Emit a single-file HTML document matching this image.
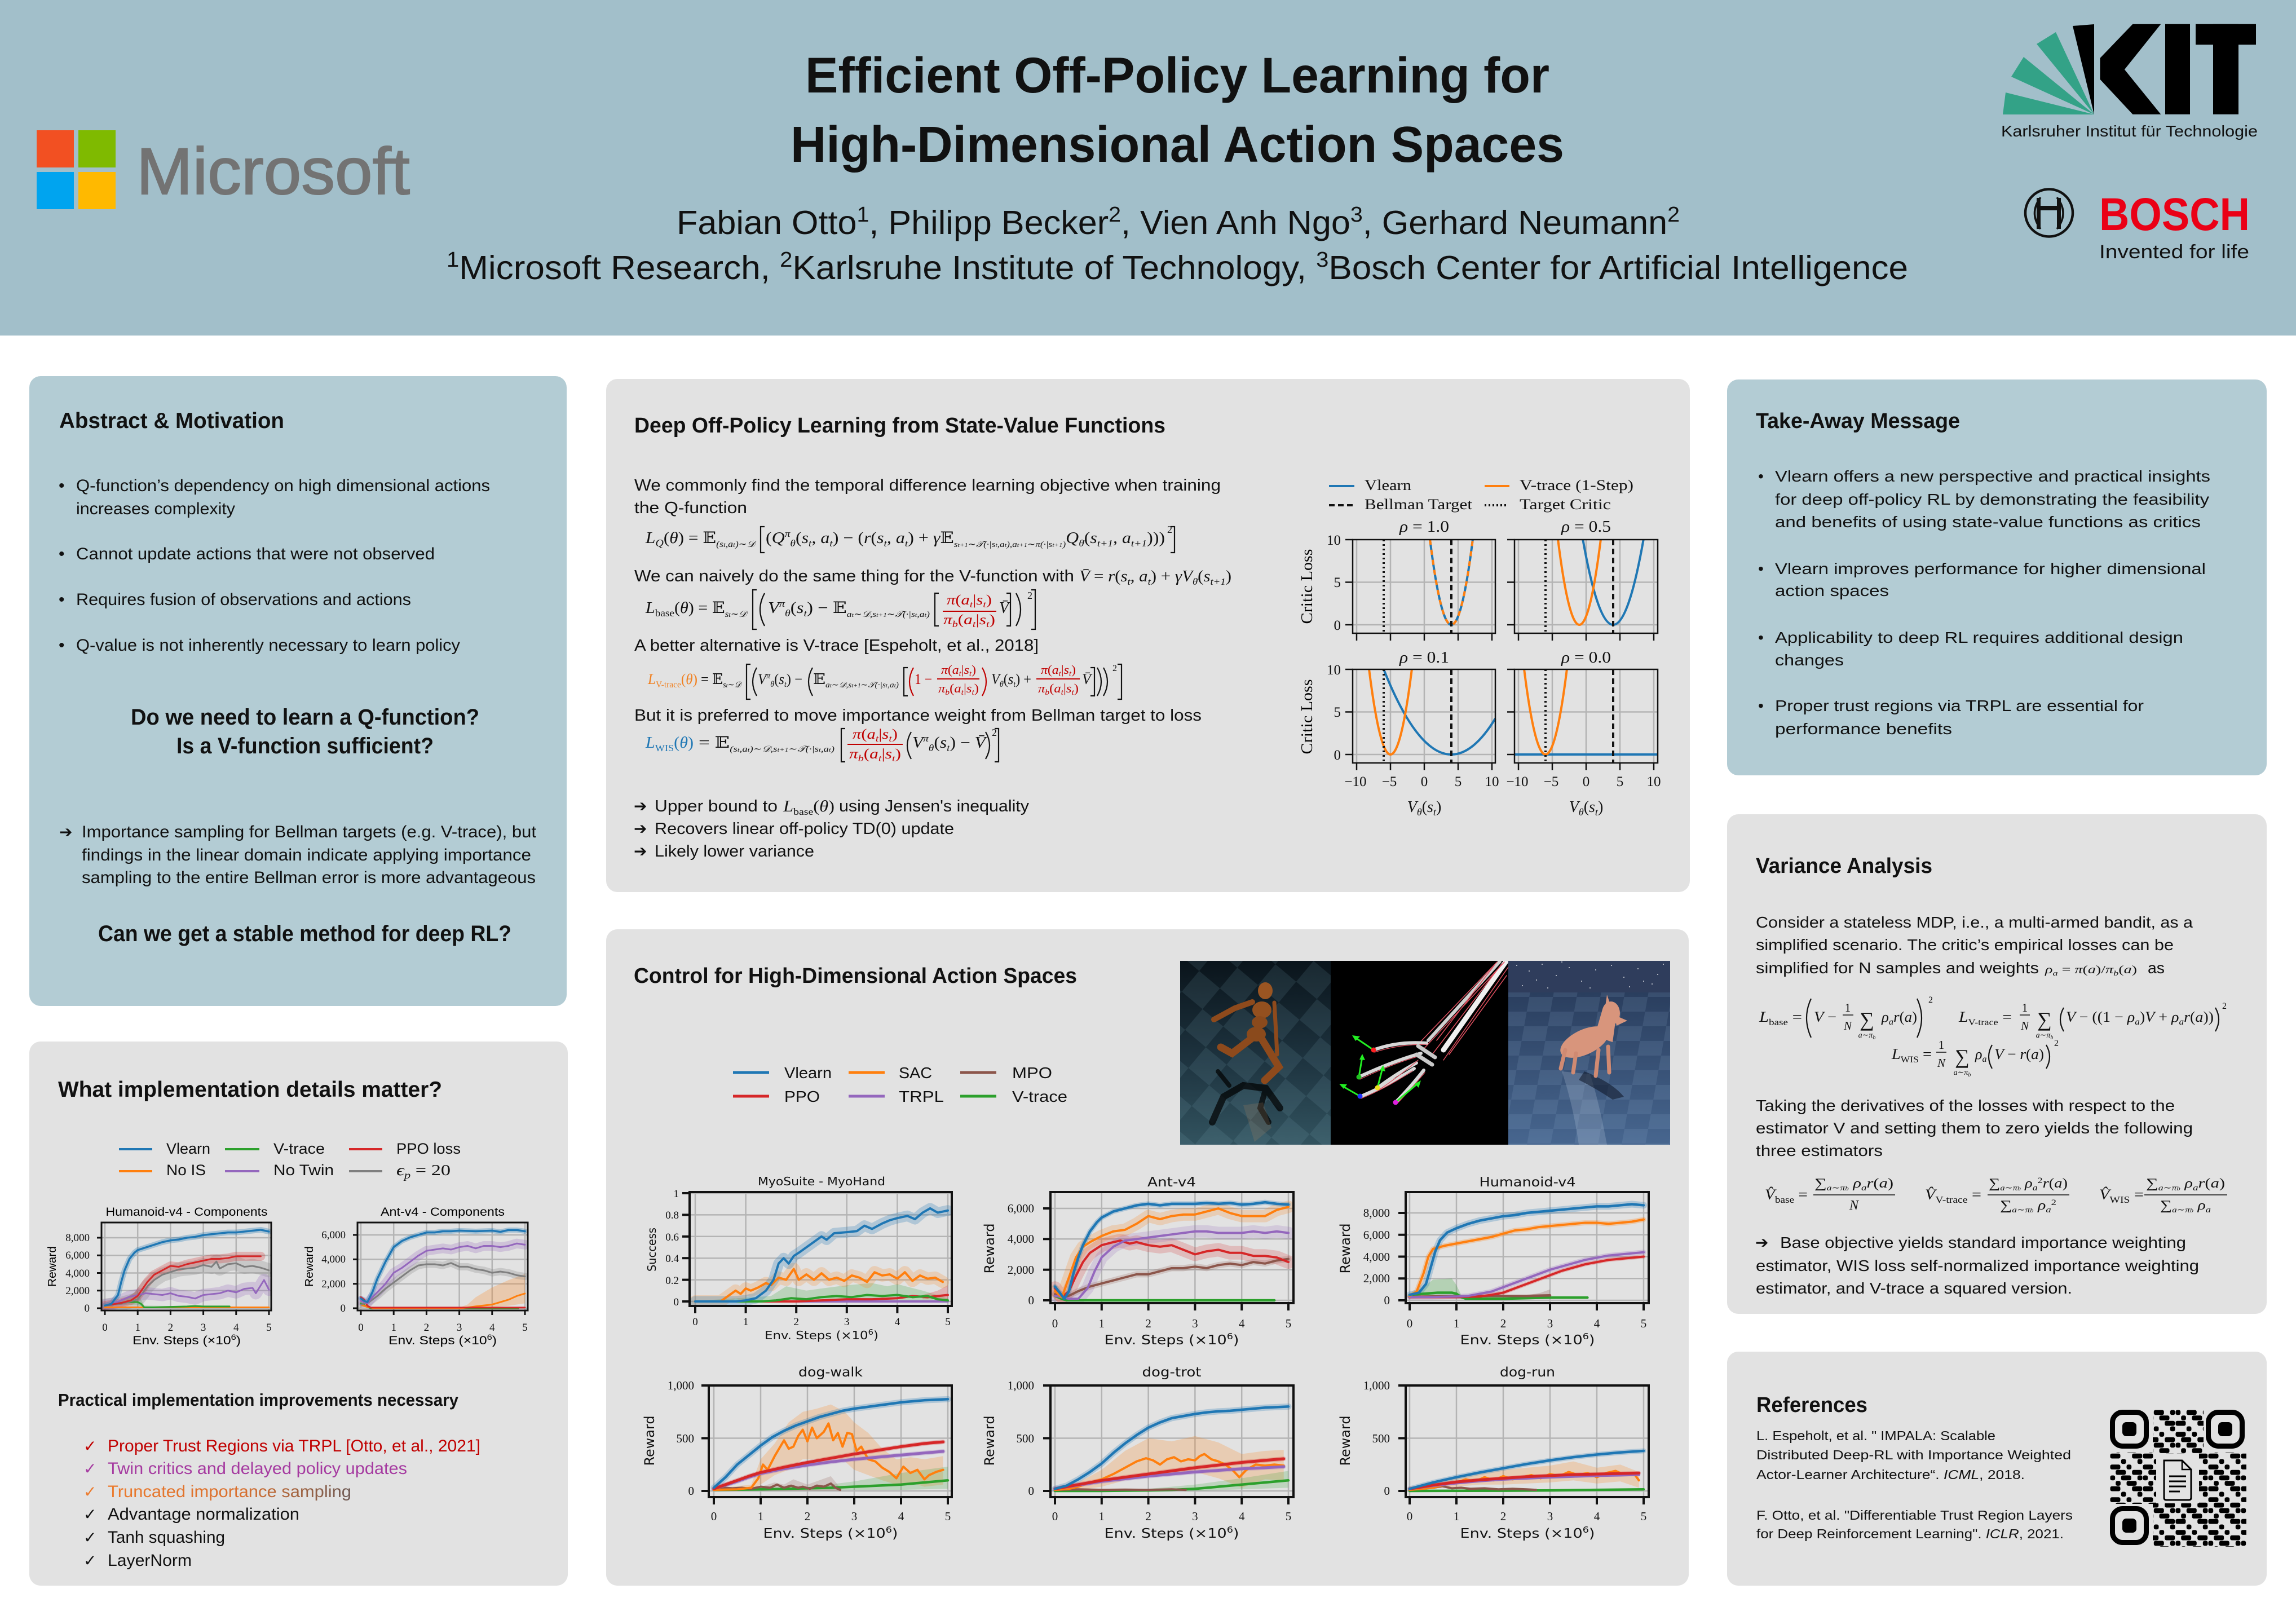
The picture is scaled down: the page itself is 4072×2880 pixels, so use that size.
<!DOCTYPE html>
<html><head><meta charset="utf-8"><style>
html,body{margin:0;padding:0;background:#fff}
svg{display:block}
.s{font-family:"Liberation Sans","DejaVu Sans",sans-serif}
.b{font-family:"Liberation Sans","DejaVu Sans",sans-serif;font-weight:bold}
.m{font-family:"Liberation Serif","DejaVu Serif",serif;font-style:italic}
.r{font-family:"Liberation Serif","DejaVu Serif",serif;font-style:normal}
.d{font-family:"DejaVu Sans",sans-serif}
.ln{fill:none;vector-effect:non-scaling-stroke;stroke-linejoin:round;stroke-linecap:round}
.gr{stroke:#b4b4b4;stroke-width:2.5}
.dl{fill:none;stroke:#111;stroke-width:2.2}
</style></head><body>
<svg width="4072" height="2880" viewBox="0 0 4072 2880" xmlns="http://www.w3.org/2000/svg">
<defs>
<clipPath id="cC1"><rect x="180" y="2168" width="301" height="156"/></clipPath>
<clipPath id="cC2"><rect x="634" y="2168" width="302" height="156"/></clipPath>
<clipPath id="cM"><rect x="1223" y="2114" width="465" height="202"/></clipPath>
<clipPath id="cA"><rect x="1863" y="2114" width="431" height="197"/></clipPath>
<clipPath id="cH"><rect x="2493" y="2114" width="431" height="197"/></clipPath>
<clipPath id="cW"><rect x="1257" y="2457" width="431" height="198"/></clipPath>
<clipPath id="cT"><rect x="1863" y="2457" width="431" height="198"/></clipPath>
<clipPath id="cR"><rect x="2493" y="2457" width="431" height="198"/></clipPath>
<clipPath id="cImg1"><rect x="2093" y="1704" width="267" height="326"/></clipPath>
<clipPath id="cImg2"><rect x="2360" y="1704" width="315" height="326"/></clipPath>
<clipPath id="cImg3"><rect x="2675" y="1704" width="287" height="326"/></clipPath>
<linearGradient id="trunc" x1="191" y1="0" x2="623" y2="0" gradientUnits="userSpaceOnUse"><stop offset="0" stop-color="#ec7a2c"/><stop offset="0.55" stop-color="#d9702e"/><stop offset="1" stop-color="#6e5a55"/></linearGradient>
<linearGradient id="hum" x1="0" y1="0" x2="0" y2="1"><stop offset="0" stop-color="#0a141b"/><stop offset="0.55" stop-color="#1e3440"/><stop offset="1" stop-color="#32535f"/></linearGradient>
<linearGradient id="floor" x1="0" y1="0" x2="0" y2="1"><stop offset="0" stop-color="#2a3e5e"/><stop offset="1" stop-color="#47668f"/></linearGradient>
<pattern id="chk1" width="96" height="96" patternUnits="userSpaceOnUse" patternTransform="rotate(40)"><rect width="48" height="48" fill="#7fb0c4" opacity="0.13"/><rect x="48" y="48" width="48" height="48" fill="#7fb0c4" opacity="0.13"/></pattern>
<pattern id="chk3" width="84" height="52" patternUnits="userSpaceOnUse" patternTransform="skewX(-10)"><rect width="42" height="26" fill="#9ab6da" opacity="0.13"/><rect x="42" y="26" width="42" height="26" fill="#9ab6da" opacity="0.13"/></pattern>
<pattern id="qr" x="3742" y="2500" width="58" height="58" patternUnits="userSpaceOnUse">
<rect x="0.5" y="0.5" width="8.7" height="8.7" rx="3"/><rect x="19.8" y="0.5" width="18" height="8.7" rx="3"/><rect x="48.8" y="0.5" width="8.7" height="8.7" rx="3"/>
<rect x="10.2" y="10.2" width="8.7" height="8.7" rx="3"/><rect x="29.5" y="10.2" width="18" height="8.7" rx="3"/>
<rect x="0.5" y="19.8" width="18" height="8.7" rx="3"/><rect x="39.2" y="19.8" width="18" height="8.7" rx="3"/>
<rect x="19.8" y="29.5" width="8.7" height="8.7" rx="3"/><rect x="48.8" y="29.5" width="8.7" height="8.7" rx="3"/>
<rect x="0.5" y="39.2" width="18" height="8.7" rx="3"/><rect x="29.5" y="39.2" width="8.7" height="8.7" rx="3"/>
<rect x="10.2" y="48.8" width="18" height="8.7" rx="3"/><rect x="39.2" y="48.8" width="18" height="8.7" rx="3"/>
</pattern>
</defs>

<!-- ============ HEADER ============ -->
<rect x="0" y="0" width="4072" height="2880" fill="#ffffff"/>
<rect x="0" y="0" width="4072" height="595" fill="#a2bfca"/>
<rect x="65" y="231" width="66" height="66" fill="#f25022"/>
<rect x="139" y="231" width="66" height="66" fill="#7fba00"/>
<rect x="65" y="305" width="66" height="66" fill="#00a4ef"/>
<rect x="139" y="305" width="66" height="66" fill="#ffb900"/>
<text x="242" y="344" class="s" font-size="117" fill="#737373" stroke="#737373" stroke-width="2" textLength="485" lengthAdjust="spacingAndGlyphs">Microsoft</text>

<text x="1428" y="164" class="b" font-size="89" fill="#111" textLength="1320" lengthAdjust="spacingAndGlyphs">Efficient Off-Policy Learning for</text>
<text x="1402" y="287" class="b" font-size="90" fill="#111" textLength="1372" lengthAdjust="spacingAndGlyphs">High-Dimensional Action Spaces</text>
<text x="1200" y="415" class="s" font-size="59" fill="#111" textLength="1779" lengthAdjust="spacingAndGlyphs">Fabian Otto<tspan font-size="38" dy="-22">1</tspan><tspan dy="22">, Philipp Becker</tspan><tspan font-size="38" dy="-22">2</tspan><tspan dy="22">, Vien Anh Ngo</tspan><tspan font-size="38" dy="-22">3</tspan><tspan dy="22">, Gerhard Neumann</tspan><tspan font-size="38" dy="-22">2</tspan></text>
<text x="792" y="495" class="s" font-size="59" fill="#111" textLength="2592" lengthAdjust="spacingAndGlyphs"><tspan font-size="38" dy="-22">1</tspan><tspan dy="22">Microsoft Research, </tspan><tspan font-size="38" dy="-22">2</tspan><tspan dy="22">Karlsruhe Institute of Technology, </tspan><tspan font-size="38" dy="-22">3</tspan><tspan dy="22">Bosch Center for Artificial Intelligence</tspan></text>

<!-- KIT -->
<polygon points="3552,203 3557,164 3714,203" fill="#33a287"/>
<polygon points="3567,136 3589,101 3714,203" fill="#33a287"/>
<polygon points="3612,78 3646,57 3714,203" fill="#33a287"/>
<polygon points="3676,46 3714,43 3714,203" fill="#000"/>
<polygon points="3724.5,103 3782.4,42.7 3832.3,42.7 3767.9,123.3 3832.3,202.7 3782.4,202.7 3724.5,140.7" fill="#000"/>
<rect x="3840" y="42.7" width="44" height="160" fill="#000"/>
<rect x="3894" y="42.7" width="107" height="36.6" fill="#000"/>
<rect x="3925" y="42.7" width="45" height="160" fill="#000"/>
<text x="3549" y="242" class="s" font-size="28" fill="#111" textLength="455" lengthAdjust="spacingAndGlyphs">Karlsruher Institut für Technologie</text>
<!-- Bosch -->
<circle cx="3634" cy="377.5" r="42" fill="none" stroke="#111" stroke-width="4.5"/>
<path d="M3619,350 Q3598,378 3619,406 M3648,350 Q3670,378 3648,406" fill="none" stroke="#111" stroke-width="3.5"/>
<rect x="3612" y="351" width="7" height="55" fill="#111"/>
<rect x="3648" y="351" width="7" height="55" fill="#111"/>
<rect x="3619" y="365" width="29" height="8" fill="#111"/>
<text x="3723" y="408" class="b" font-size="82" fill="#ea0016" textLength="267" lengthAdjust="spacingAndGlyphs">BOSCH</text>
<text x="3723" y="458" class="s" font-size="34" fill="#111" textLength="266" lengthAdjust="spacingAndGlyphs">Invented for life</text>

<!-- ============ PANELS ============ -->
<rect x="52" y="667" width="953" height="1117" rx="20" fill="#b3ccd4"/>
<rect x="52" y="1847" width="955" height="965" rx="20" fill="#e2e2e2"/>
<rect x="1075" y="672" width="1922" height="910" rx="20" fill="#e2e2e2"/>
<rect x="1075" y="1648" width="1920" height="1164" rx="20" fill="#e2e2e2"/>
<rect x="3063" y="673" width="957" height="702" rx="20" fill="#b3ccd4"/>
<rect x="3063" y="1444" width="957" height="886" rx="20" fill="#e2e2e2"/>
<rect x="3063" y="2397" width="957" height="415" rx="20" fill="#e2e2e2"/>

<!-- ============ ABSTRACT ============ -->
<g class="s" fill="#111">
<text x="105" y="759" class="b" font-size="39" textLength="399" lengthAdjust="spacingAndGlyphs">Abstract &amp; Motivation</text>
<g font-size="30">
<text x="104" y="871">•</text><text x="135" y="871" textLength="734" lengthAdjust="spacingAndGlyphs">Q-function’s dependency on high dimensional actions</text>
<text x="135" y="912" textLength="282" lengthAdjust="spacingAndGlyphs">increases complexity</text>
<text x="104" y="992">•</text><text x="135" y="992" textLength="636" lengthAdjust="spacingAndGlyphs">Cannot update actions that were not observed</text>
<text x="104" y="1073">•</text><text x="135" y="1073" textLength="594" lengthAdjust="spacingAndGlyphs">Requires fusion of observations and actions</text>
<text x="104" y="1154">•</text><text x="135" y="1154" textLength="681" lengthAdjust="spacingAndGlyphs">Q-value is not inherently necessary to learn policy</text>
<text x="105" y="1485" class="d" font-size="28">➔</text>
<text x="145" y="1485" textLength="806" lengthAdjust="spacingAndGlyphs">Importance sampling for Bellman targets (e.g. V-trace), but</text>
<text x="145" y="1526" textLength="797" lengthAdjust="spacingAndGlyphs">findings in the linear domain indicate applying importance</text>
<text x="145" y="1566" textLength="805" lengthAdjust="spacingAndGlyphs">sampling to the entire Bellman error is more advantageous</text>
</g>
<text x="232" y="1285" class="b" font-size="40" textLength="618" lengthAdjust="spacingAndGlyphs">Do we need to learn a Q-function?</text>
<text x="313" y="1336" class="b" font-size="40" textLength="456" lengthAdjust="spacingAndGlyphs">Is a V-function sufficient?</text>
<text x="174" y="1669" class="b" font-size="40" textLength="733" lengthAdjust="spacingAndGlyphs">Can we get a stable method for deep RL?</text>
</g>

<!-- ============ IMPLEMENTATION DETAILS ============ -->
<g class="s" fill="#111">
<text x="103" y="1945" class="b" font-size="39" textLength="681" lengthAdjust="spacingAndGlyphs">What implementation details matter?</text>
<g stroke-width="4">
<line x1="211" y1="2038" x2="270" y2="2038" stroke="#1f77b4"/>
<line x1="399" y1="2038" x2="460" y2="2038" stroke="#2ca02c"/>
<line x1="619" y1="2038" x2="678" y2="2038" stroke="#d62728"/>
<line x1="211" y1="2077" x2="270" y2="2077" stroke="#ff7f0e"/>
<line x1="399" y1="2077" x2="460" y2="2077" stroke="#9467bd"/>
<line x1="619" y1="2077" x2="678" y2="2077" stroke="#7f7f7f"/>
</g>
<g font-size="27">
<text x="295" y="2046" textLength="78" lengthAdjust="spacingAndGlyphs">Vlearn</text>
<text x="485" y="2046" textLength="91" lengthAdjust="spacingAndGlyphs">V-trace</text>
<text x="703" y="2046" textLength="114" lengthAdjust="spacingAndGlyphs">PPO loss</text>
<text x="295" y="2084" textLength="70" lengthAdjust="spacingAndGlyphs">No IS</text>
<text x="485" y="2084" textLength="107" lengthAdjust="spacingAndGlyphs">No Twin</text>
<text x="703" y="2084" class="m" textLength="96" lengthAdjust="spacingAndGlyphs">ϵ<tspan font-size="18" dy="6">p</tspan><tspan dy="-6" class="r"> = 20</tspan></text>
</g>
</g>

<!-- Comp chart 1 -->
<g>
<text x="331" y="2156" class="s" font-size="21" text-anchor="middle" textLength="287" lengthAdjust="spacingAndGlyphs">Humanoid-v4 - Components</text>
<g class="gr">
<line x1="186" y1="2168" x2="186" y2="2324"/><line x1="244.2" y1="2168" x2="244.2" y2="2324"/><line x1="302.4" y1="2168" x2="302.4" y2="2324"/><line x1="360.6" y1="2168" x2="360.6" y2="2324"/><line x1="418.8" y1="2168" x2="418.8" y2="2324"/><line x1="477" y1="2168" x2="477" y2="2324"/>
<line x1="180" y1="2320" x2="481" y2="2320"/><line x1="180" y1="2288.75" x2="481" y2="2288.75"/><line x1="180" y1="2257.5" x2="481" y2="2257.5"/><line x1="180" y1="2226.25" x2="481" y2="2226.25"/><line x1="180" y1="2195" x2="481" y2="2195"/>
</g>
<g clip-path="url(#cC1)"><g transform="translate(186,2320) scale(58.2,-0.015625)">
<polygon points="0,400 0.5,900 0.9,1800 1,2000 1.1,1000 1.2,300 2,250 3.8,300 3.8,100 2,50 1.2,0 1,400 0.5,400 0,200" fill="#2ca02c" opacity="0.25"/>
<polyline class="ln" stroke="#7f7f7f" stroke-width="25" opacity="0.25" points="0,300 0.5,500 1,1000 1.15,1700 1.3,2500 1.5,3200 1.75,3800 2,4100 2.25,4400 2.5,4500 2.75,4600 3,4900 3.25,4700 3.4,5300 3.5,4500 3.75,5000 4,5100 4.25,4700 4.5,4800 4.75,4600 5,4300"/>
<polyline class="ln" stroke="#9467bd" stroke-width="22" opacity="0.25" points="0,300 0.25,500 0.5,900 0.75,1300 1,1500 1.25,1700 1.5,1600 1.75,1500 2,1700 2.25,1400 2.5,1300 2.75,1100 3,1500 3.25,1600 3.5,1700 3.75,2000 4,1800 4.25,2200 4.5,2300 4.6,1700 4.75,2600 4.85,3200 5,2100"/>
<polyline class="ln" stroke="#d62728" stroke-width="16" opacity="0.25" points="0,300 0.5,600 0.8,900 1,1400 1.15,2200 1.3,3000 1.5,3800 1.75,4300 2,4800 2.25,4700 2.5,5000 2.75,5200 3,5400 3.25,5600 3.5,5600 3.75,5700 4,5900 4.25,5900 4.5,5900 4.75,5900"/>
<polyline class="ln" stroke="#1f77b4" stroke-width="10" opacity="0.3" points="0,300 0.2,500 0.4,1500 0.5,3000 0.6,4300 0.75,5600 0.9,6300 1,6600 1.25,6900 1.5,7200 1.75,7500 2,7700 2.25,7800 2.5,8000 2.75,8100 3,8300 3.25,8400 3.5,8500 3.75,8600 4,8600 4.25,8700 4.5,8800 4.75,8900 5,8700"/>
<polyline class="ln" stroke="#ff7f0e" stroke-width="3" points="0,100 5,100"/>
<polyline class="ln" stroke="#2ca02c" stroke-width="3" points="0,300 0.25,500 0.5,600 0.75,700 1,700 1.1,500 1.2,100 1.5,100 2,150 2.5,200 2.75,250 3,200 3.5,200 3.8,200"/>
<polyline class="ln" stroke="#7f7f7f" stroke-width="3" points="0,300 0.5,500 1,1000 1.15,1700 1.3,2500 1.5,3200 1.75,3800 2,4100 2.25,4400 2.5,4500 2.75,4600 3,4900 3.25,4700 3.4,5300 3.5,4500 3.75,5000 4,5100 4.25,4700 4.5,4800 4.75,4600 5,4300"/>
<polyline class="ln" stroke="#9467bd" stroke-width="3" points="0,300 0.25,500 0.5,900 0.75,1300 1,1500 1.25,1700 1.5,1600 1.75,1500 2,1700 2.25,1400 2.5,1300 2.75,1100 3,1500 3.25,1600 3.5,1700 3.75,2000 4,1800 4.25,2200 4.5,2300 4.6,1700 4.75,2600 4.85,3200 5,2100"/>
<polyline class="ln" stroke="#d62728" stroke-width="3" points="0,300 0.5,600 0.8,900 1,1400 1.15,2200 1.3,3000 1.5,3800 1.75,4300 2,4800 2.25,4700 2.5,5000 2.75,5200 3,5400 3.25,5600 3.5,5600 3.75,5700 4,5900 4.25,5900 4.5,5900 4.75,5900"/>
<polyline class="ln" stroke="#1f77b4" stroke-width="3.5" points="0,300 0.2,500 0.4,1500 0.5,3000 0.6,4300 0.75,5600 0.9,6300 1,6600 1.25,6900 1.5,7200 1.75,7500 2,7700 2.25,7800 2.5,8000 2.75,8100 3,8300 3.25,8400 3.5,8500 3.75,8600 4,8600 4.25,8700 4.5,8800 4.75,8900 5,8700"/>
</g></g>
<rect x="180" y="2168" width="301" height="156" fill="none" stroke="#111" stroke-width="3"/>
<g stroke="#111" stroke-width="3">
<line x1="172" y1="2320" x2="180" y2="2320"/><line x1="172" y1="2288.75" x2="180" y2="2288.75"/><line x1="172" y1="2257.5" x2="180" y2="2257.5"/><line x1="172" y1="2226.25" x2="180" y2="2226.25"/><line x1="172" y1="2195" x2="180" y2="2195"/>
<line x1="186" y1="2324" x2="186" y2="2332"/><line x1="244.2" y1="2324" x2="244.2" y2="2332"/><line x1="302.4" y1="2324" x2="302.4" y2="2332"/><line x1="360.6" y1="2324" x2="360.6" y2="2332"/><line x1="418.8" y1="2324" x2="418.8" y2="2332"/><line x1="477" y1="2324" x2="477" y2="2332"/>
</g>
<g class="r" font-size="19" text-anchor="end" fill="#111">
<text x="159" y="2326">0</text><text x="159" y="2295">2,000</text><text x="159" y="2264">4,000</text><text x="159" y="2232">6,000</text><text x="159" y="2201">8,000</text>
</g>
<g class="r" font-size="19" text-anchor="middle" fill="#111">
<text x="186" y="2360">0</text><text x="244.2" y="2360">1</text><text x="302.4" y="2360">2</text><text x="360.6" y="2360">3</text><text x="418.8" y="2360">4</text><text x="477" y="2360">5</text>
</g>
<text x="331" y="2384" class="s" font-size="21" text-anchor="middle" textLength="192" lengthAdjust="spacingAndGlyphs">Env. Steps (×10<tspan font-size="14" dy="-8">6</tspan><tspan dy="8">)</tspan></text>
<text transform="translate(99,2246) rotate(-90)" class="s" font-size="20" text-anchor="middle" textLength="72" lengthAdjust="spacingAndGlyphs">Reward</text>
</g>

<!-- Comp chart 2 -->
<g>
<text x="785" y="2156" class="s" font-size="21" text-anchor="middle" textLength="220" lengthAdjust="spacingAndGlyphs">Ant-v4 - Components</text>
<g class="gr">
<line x1="640" y1="2168" x2="640" y2="2324"/><line x1="698.2" y1="2168" x2="698.2" y2="2324"/><line x1="756.4" y1="2168" x2="756.4" y2="2324"/><line x1="814.6" y1="2168" x2="814.6" y2="2324"/><line x1="872.8" y1="2168" x2="872.8" y2="2324"/><line x1="931" y1="2168" x2="931" y2="2324"/>
<line x1="634" y1="2320" x2="936" y2="2320"/><line x1="634" y1="2276.7" x2="936" y2="2276.7"/><line x1="634" y1="2233.3" x2="936" y2="2233.3"/><line x1="634" y1="2190" x2="936" y2="2190"/>
</g>
<g clip-path="url(#cC2)"><g transform="translate(640,2320) scale(58.2,-0.021667)">
<polygon points="0,500 0.3,100 3,50 3.25,300 3.5,900 4,1700 4.5,2300 5,2800 5,400 4.5,200 4,100 3,0 0,100" fill="#ff7f0e" opacity="0.25"/>
<polyline class="ln" stroke="#7f7f7f" stroke-width="13" opacity="0.25" points="0,300 0.25,500 0.5,1000 0.75,1600 1,2100 1.25,2600 1.5,3100 1.75,3500 2,3600 2.25,3600 2.5,3500 2.75,3700 3,3400 3.25,3400 3.5,3200 3.75,3100 4,2900 4.25,3000 4.5,2900 4.75,2700 5,2600"/>
<polyline class="ln" stroke="#9467bd" stroke-width="17" opacity="0.25" points="0,600 0.2,400 0.35,900 0.5,1300 0.75,2000 1,2900 1.25,3300 1.5,3800 1.75,4300 2,4700 2.25,4800 2.5,4900 2.75,4800 3,5000 3.25,5100 3.5,4900 3.75,5100 4,5100 4.25,5000 4.5,5100 4.75,5300 5,5200"/>
<polyline class="ln" stroke="#1f77b4" stroke-width="9" opacity="0.3" points="0,800 0.1,600 0.2,500 0.35,1300 0.5,2400 0.75,3800 1,5000 1.25,5500 1.5,5800 1.75,6000 2,6200 2.25,6200 2.5,6300 2.75,6300 3,6350 3.5,6300 4,6350 4.25,6250 4.5,6400 4.75,6400 5,6300"/>
<polyline class="ln" stroke="#2ca02c" stroke-width="3" points="0,400 0.2,100 0.3,0 4.8,0"/>
<polyline class="ln" stroke="#ff7f0e" stroke-width="3" points="0,300 0.2,100 0.4,0 3,0 3.25,50 3.5,150 4,300 4.25,500 4.5,700 4.75,1000 5,1200"/>
<polyline class="ln" stroke="#d62728" stroke-width="3" points="0,900 0.1,700 0.2,200 0.3,50 5,50"/>
<polyline class="ln" stroke="#7f7f7f" stroke-width="3" points="0,300 0.25,500 0.5,1000 0.75,1600 1,2100 1.25,2600 1.5,3100 1.75,3500 2,3600 2.25,3600 2.5,3500 2.75,3700 3,3400 3.25,3400 3.5,3200 3.75,3100 4,2900 4.25,3000 4.5,2900 4.75,2700 5,2600"/>
<polyline class="ln" stroke="#9467bd" stroke-width="3" points="0,600 0.2,400 0.35,900 0.5,1300 0.75,2000 1,2900 1.25,3300 1.5,3800 1.75,4300 2,4700 2.25,4800 2.5,4900 2.75,4800 3,5000 3.25,5100 3.5,4900 3.75,5100 4,5100 4.25,5000 4.5,5100 4.75,5300 5,5200"/>
<polyline class="ln" stroke="#1f77b4" stroke-width="3.5" points="0,800 0.1,600 0.2,500 0.35,1300 0.5,2400 0.75,3800 1,5000 1.25,5500 1.5,5800 1.75,6000 2,6200 2.25,6200 2.5,6300 2.75,6300 3,6350 3.5,6300 4,6350 4.25,6250 4.5,6400 4.75,6400 5,6300"/>
</g></g>
<rect x="634" y="2168" width="302" height="156" fill="none" stroke="#111" stroke-width="3"/>
<g stroke="#111" stroke-width="3">
<line x1="626" y1="2320" x2="634" y2="2320"/><line x1="626" y1="2276.7" x2="634" y2="2276.7"/><line x1="626" y1="2233.3" x2="634" y2="2233.3"/><line x1="626" y1="2190" x2="634" y2="2190"/>
<line x1="640" y1="2324" x2="640" y2="2332"/><line x1="698.2" y1="2324" x2="698.2" y2="2332"/><line x1="756.4" y1="2324" x2="756.4" y2="2332"/><line x1="814.6" y1="2324" x2="814.6" y2="2332"/><line x1="872.8" y1="2324" x2="872.8" y2="2332"/><line x1="931" y1="2324" x2="931" y2="2332"/>
</g>
<g class="r" font-size="19" text-anchor="end" fill="#111">
<text x="613" y="2326">0</text><text x="613" y="2283">2,000</text><text x="613" y="2239">4,000</text><text x="613" y="2196">6,000</text>
</g>
<g class="r" font-size="19" text-anchor="middle" fill="#111">
<text x="640" y="2360">0</text><text x="698.2" y="2360">1</text><text x="756.4" y="2360">2</text><text x="814.6" y="2360">3</text><text x="872.8" y="2360">4</text><text x="931" y="2360">5</text>
</g>
<text x="785" y="2384" class="s" font-size="21" text-anchor="middle" textLength="192" lengthAdjust="spacingAndGlyphs">Env. Steps (×10<tspan font-size="14" dy="-8">6</tspan><tspan dy="8">)</tspan></text>
<text transform="translate(555,2246) rotate(-90)" class="s" font-size="20" text-anchor="middle" textLength="72" lengthAdjust="spacingAndGlyphs">Reward</text>
</g>

<g class="s" font-size="30" fill="#111">
<text x="103" y="2493" class="b" font-size="31" textLength="710" lengthAdjust="spacingAndGlyphs">Practical implementation improvements necessary</text>
<text x="148" y="2574" class="d" font-size="28" fill="#c00000">✓</text><text x="191" y="2574" fill="#c00000" textLength="661" lengthAdjust="spacingAndGlyphs">Proper Trust Regions via TRPL [Otto, et al., 2021]</text>
<text x="148" y="2614" class="d" font-size="28" fill="#a53aa0">✓</text><text x="191" y="2614" fill="#a53aa0" textLength="531" lengthAdjust="spacingAndGlyphs">Twin critics and delayed policy updates</text>
<text x="148" y="2655" class="d" font-size="28" fill="#ec7a2c">✓</text><text x="191" y="2655" fill="url(#trunc)" textLength="432" lengthAdjust="spacingAndGlyphs">Truncated importance sampling</text>
<text x="148" y="2695" class="d" font-size="28">✓</text><text x="191" y="2695" textLength="340" lengthAdjust="spacingAndGlyphs">Advantage normalization</text>
<text x="148" y="2736" class="d" font-size="28">✓</text><text x="191" y="2736" textLength="208" lengthAdjust="spacingAndGlyphs">Tanh squashing</text>
<text x="148" y="2777" class="d" font-size="28">✓</text><text x="191" y="2777" textLength="149" lengthAdjust="spacingAndGlyphs">LayerNorm</text>
</g>

<!-- ============ DEEP OFF-POLICY ============ -->
<g fill="#111">
<text x="1125" y="767" class="b" font-size="38" textLength="942" lengthAdjust="spacingAndGlyphs">Deep Off-Policy Learning from State-Value Functions</text>
<g class="s" font-size="29">
<text x="1125" y="870" textLength="1040" lengthAdjust="spacingAndGlyphs">We commonly find the temporal difference learning objective when training</text>
<text x="1125" y="910" textLength="200" lengthAdjust="spacingAndGlyphs">the Q-function</text>
<text x="1125" y="1031" textLength="780" lengthAdjust="spacingAndGlyphs">We can naively do the same thing for the V-function with</text>
<text x="1125" y="1154" textLength="717" lengthAdjust="spacingAndGlyphs">A better alternative is V-trace [Espeholt, et al., 2018]</text>
<text x="1125" y="1278" textLength="1006" lengthAdjust="spacingAndGlyphs">But it is preferred to move importance weight from Bellman target to loss</text>
<text x="1124" y="1439" class="d" font-size="28">➔</text><text x="1161" y="1439" textLength="218" lengthAdjust="spacingAndGlyphs">Upper bound to</text><text x="1488" y="1439" textLength="337" lengthAdjust="spacingAndGlyphs">using Jensen's inequality</text>
<text x="1124" y="1479" class="d" font-size="28">➔</text><text x="1161" y="1479" textLength="531" lengthAdjust="spacingAndGlyphs">Recovers linear off-policy TD(0) update</text>
<text x="1124" y="1519" class="d" font-size="28">➔</text><text x="1161" y="1519" textLength="283" lengthAdjust="spacingAndGlyphs">Likely lower variance</text>
</g>
<text x="1389" y="1439" class="m" font-size="28" textLength="91" lengthAdjust="spacingAndGlyphs">L<tspan class="r" font-size="17" dy="6">base</tspan><tspan class="r" dy="-6">(</tspan>θ<tspan class="r">)</tspan></text>
<text x="1914" y="1031" class="m" font-size="28" textLength="270" lengthAdjust="spacingAndGlyphs">V̄ <tspan class="r">=</tspan> r<tspan class="r">(</tspan>s<tspan font-size="17" dy="6">t</tspan><tspan dy="-6" class="r">, </tspan>a<tspan font-size="17" dy="6">t</tspan><tspan dy="-6" class="r">) + </tspan>γV<tspan font-size="17" dy="6">θ̄</tspan><tspan dy="-6" class="r">(</tspan>s<tspan font-size="17" dy="6">t+1</tspan><tspan dy="-6" class="r">)</tspan></text>

<!-- L_Q -->
<text x="1145" y="963" class="m" font-size="28" textLength="194" lengthAdjust="spacingAndGlyphs">L<tspan font-size="18" dy="6">Q</tspan><tspan dy="-6" class="r">(</tspan>θ<tspan class="r">) = 𝔼</tspan><tspan font-size="16" dy="7">(s<tspan font-size="12">t</tspan>,a<tspan font-size="12">t</tspan>)∼𝒟</tspan></text>
<path class="dl" d="M1356,934 H1349 V980 H1356"/>
<text x="1358" y="963" class="m" font-size="28" textLength="708" lengthAdjust="spacingAndGlyphs"><tspan class="r">(</tspan>Q<tspan font-size="17" dy="-11">π</tspan><tspan font-size="17" dy="17">θ</tspan><tspan dy="-6" class="r">(</tspan>s<tspan font-size="17" dy="6">t</tspan><tspan dy="-6">, a</tspan><tspan font-size="17" dy="6">t</tspan><tspan dy="-6" class="r">) − (</tspan>r<tspan class="r">(</tspan>s<tspan font-size="17" dy="6">t</tspan><tspan dy="-6">, a</tspan><tspan font-size="17" dy="6">t</tspan><tspan dy="-6" class="r">) + </tspan>γ<tspan class="r">𝔼</tspan><tspan font-size="15" dy="7">s<tspan font-size="11">t+1</tspan>∼𝒯(·|s<tspan font-size="11">t</tspan>,a<tspan font-size="11">t</tspan>),a<tspan font-size="11">t+1</tspan>∼π(·|s<tspan font-size="11">t+1</tspan>)</tspan><tspan dy="-7">Q</tspan><tspan font-size="17" dy="6">θ̄</tspan><tspan dy="-6" class="r">(</tspan>s<tspan font-size="17" dy="6">t+1</tspan><tspan dy="-6">, a</tspan><tspan font-size="17" dy="6">t+1</tspan><tspan dy="-6" class="r">)))</tspan></text>
<text x="2070" y="945" class="r" font-size="18">2</text>
<path class="dl" d="M2076,934 H2083 V980 H2076"/>

<!-- L_base -->
<text x="1145" y="1087" class="m" font-size="28" textLength="179" lengthAdjust="spacingAndGlyphs">L<tspan class="r" font-size="18" dy="6">base</tspan><tspan dy="-6" class="r">(</tspan>θ<tspan class="r">) = 𝔼</tspan><tspan font-size="16" dy="7">s<tspan font-size="12">t</tspan>∼𝒟</tspan></text>
<path class="dl" d="M1342,1046 H1335 V1116 H1342"/>
<path class="dl" d="M1356,1052 Q1340,1081 1356,1110"/>
<text x="1362" y="1087" class="m" font-size="28" textLength="287" lengthAdjust="spacingAndGlyphs">V<tspan font-size="17" dy="-11">π</tspan><tspan font-size="17" dy="17">θ</tspan><tspan dy="-6" class="r">(</tspan>s<tspan font-size="17" dy="6">t</tspan><tspan dy="-6" class="r">) − 𝔼</tspan><tspan font-size="15" dy="7">a<tspan font-size="11">t</tspan>∼𝒟,s<tspan font-size="11">t+1</tspan>∼𝒯(·|s<tspan font-size="11">t</tspan>,a<tspan font-size="11">t</tspan>)</tspan></text>
<path class="dl" d="M1665,1052 H1658 V1110 H1665"/>
<g fill="#c00000" class="m" font-size="25" text-anchor="middle">
<text x="1719" y="1072" textLength="80" lengthAdjust="spacingAndGlyphs">π<tspan class="r">(</tspan>a<tspan font-size="16" dy="5">t</tspan><tspan dy="-5" class="r">|</tspan>s<tspan font-size="16" dy="5">t</tspan><tspan dy="-5" class="r">)</tspan></text>
<text x="1719" y="1107" textLength="92" lengthAdjust="spacingAndGlyphs">π<tspan font-size="16" dy="5">b</tspan><tspan dy="-5" class="r">(</tspan>a<tspan font-size="16" dy="5">t</tspan><tspan dy="-5" class="r">|</tspan>s<tspan font-size="16" dy="5">t</tspan><tspan dy="-5" class="r">)</tspan></text>
</g>
<line x1="1672" y1="1084" x2="1767" y2="1084" stroke="#c00000" stroke-width="2"/>
<text x="1772" y="1087" class="m" font-size="28">V̄</text>
<path class="dl" d="M1785,1052 H1792 V1110 H1785"/>
<path class="dl" d="M1802,1052 Q1818,1081 1802,1110"/>
<text x="1822" y="1062" class="r" font-size="18">2</text>
<path class="dl" d="M1829,1046 H1836 V1116 H1829"/>

<!-- L_V-trace -->
<text x="1149" y="1213" class="m" font-size="26" fill="#f08020" textLength="88" lengthAdjust="spacingAndGlyphs">L<tspan class="r" font-size="16" dy="6">V-trace</tspan><tspan dy="-6" class="r">(</tspan>θ<tspan class="r">)</tspan></text>
<text x="1243" y="1213" class="m" font-size="26" textLength="71" lengthAdjust="spacingAndGlyphs"><tspan class="r">= 𝔼</tspan><tspan font-size="15" dy="6">s<tspan font-size="11">t</tspan>∼𝒟</tspan></text>
<path class="dl" d="M1331,1178 H1324 V1240 H1331"/>
<path class="dl" d="M1342,1184 Q1328,1209 1342,1234"/>
<text x="1344" y="1213" class="m" font-size="26" textLength="79" lengthAdjust="spacingAndGlyphs">V<tspan font-size="15" dy="-10">π</tspan><tspan font-size="15" dy="15">θ</tspan><tspan dy="-5" class="r">(</tspan>s<tspan font-size="15" dy="5">t</tspan><tspan dy="-5" class="r">) −</tspan></text>
<path class="dl" d="M1441,1184 Q1427,1209 1441,1234"/>
<text x="1442" y="1213" class="m" font-size="26" textLength="152" lengthAdjust="spacingAndGlyphs"><tspan class="r">𝔼</tspan><tspan font-size="14" dy="6">a<tspan font-size="10">t</tspan>∼𝒟,s<tspan font-size="10">t+1</tspan>∼𝒯(·|s<tspan font-size="10">t</tspan>,a<tspan font-size="10">t</tspan>)</tspan></text>
<path class="dl" d="M1610,1184 H1603 V1234 H1610"/>
<path d="M1620,1184 Q1606,1209 1620,1234" fill="none" stroke="#c00000" stroke-width="2.2"/>
<text x="1622" y="1213" class="r" font-size="26" fill="#c00000" textLength="31" lengthAdjust="spacingAndGlyphs">1 −</text>
<g fill="#c00000" class="m" font-size="22" text-anchor="middle">
<text x="1700" y="1195" textLength="62" lengthAdjust="spacingAndGlyphs">π<tspan class="r">(</tspan>a<tspan font-size="14" dy="4">t</tspan><tspan dy="-4" class="r">|</tspan>s<tspan font-size="14" dy="4">t</tspan><tspan dy="-4" class="r">)</tspan></text>
<text x="1700" y="1228" textLength="72" lengthAdjust="spacingAndGlyphs">π<tspan font-size="14" dy="4">b</tspan><tspan dy="-4" class="r">(</tspan>a<tspan font-size="14" dy="4">t</tspan><tspan dy="-4" class="r">|</tspan>s<tspan font-size="14" dy="4">t</tspan><tspan dy="-4" class="r">)</tspan></text>
<text x="1877" y="1195" textLength="62" lengthAdjust="spacingAndGlyphs">π<tspan class="r">(</tspan>a<tspan font-size="14" dy="4">t</tspan><tspan dy="-4" class="r">|</tspan>s<tspan font-size="14" dy="4">t</tspan><tspan dy="-4" class="r">)</tspan></text>
<text x="1877" y="1228" textLength="72" lengthAdjust="spacingAndGlyphs">π<tspan font-size="14" dy="4">b</tspan><tspan dy="-4" class="r">(</tspan>a<tspan font-size="14" dy="4">t</tspan><tspan dy="-4" class="r">|</tspan>s<tspan font-size="14" dy="4">t</tspan><tspan dy="-4" class="r">)</tspan></text>
</g>
<line x1="1662" y1="1204" x2="1737" y2="1204" stroke="#c00000" stroke-width="2"/>
<line x1="1838" y1="1204" x2="1915" y2="1204" stroke="#c00000" stroke-width="2"/>
<path d="M1742,1184 Q1756,1209 1742,1234" fill="none" stroke="#c00000" stroke-width="2.2"/>
<text x="1758" y="1213" class="m" font-size="26" textLength="71" lengthAdjust="spacingAndGlyphs">V<tspan font-size="15" dy="5">θ̄</tspan><tspan dy="-5" class="r">(</tspan>s<tspan font-size="15" dy="5">t</tspan><tspan dy="-5" class="r">) +</tspan></text>
<text x="1919" y="1213" class="m" font-size="26">V̄</text>
<path class="dl" d="M1934,1184 H1941 V1234 H1934"/>
<path class="dl" d="M1946,1184 Q1960,1209 1946,1234"/>
<path class="dl" d="M1957,1184 Q1971,1209 1957,1234"/>
<text x="1973" y="1190" class="r" font-size="16">2</text>
<path class="dl" d="M1982,1178 H1989 V1240 H1982"/>

<!-- L_WIS -->
<text x="1145" y="1326" class="m" font-size="28" fill="#1f77b4" textLength="85" lengthAdjust="spacingAndGlyphs">L<tspan class="r" font-size="17" dy="6">WIS</tspan><tspan dy="-6" class="r">(</tspan>θ<tspan class="r">)</tspan></text>
<text x="1239" y="1326" class="m" font-size="28" textLength="241" lengthAdjust="spacingAndGlyphs"><tspan class="r">= 𝔼</tspan><tspan font-size="15" dy="7">(s<tspan font-size="11">t</tspan>,a<tspan font-size="11">t</tspan>)∼𝒟,s<tspan font-size="11">t+1</tspan>∼𝒯(·|s<tspan font-size="11">t</tspan>,a<tspan font-size="11">t</tspan>)</tspan></text>
<path class="dl" d="M1499,1292 H1492 V1351 H1499"/>
<g fill="#c00000" class="m" font-size="25" text-anchor="middle">
<text x="1552" y="1310" textLength="80" lengthAdjust="spacingAndGlyphs">π<tspan class="r">(</tspan>a<tspan font-size="16" dy="5">t</tspan><tspan dy="-5" class="r">|</tspan>s<tspan font-size="16" dy="5">t</tspan><tspan dy="-5" class="r">)</tspan></text>
<text x="1552" y="1345" textLength="92" lengthAdjust="spacingAndGlyphs">π<tspan font-size="16" dy="5">b</tspan><tspan dy="-5" class="r">(</tspan>a<tspan font-size="16" dy="5">t</tspan><tspan dy="-5" class="r">|</tspan>s<tspan font-size="16" dy="5">t</tspan><tspan dy="-5" class="r">)</tspan></text>
</g>
<line x1="1503" y1="1320" x2="1601" y2="1320" stroke="#c00000" stroke-width="2"/>
<path class="dl" d="M1616,1298 Q1602,1322 1616,1346"/>
<text x="1618" y="1326" class="m" font-size="28" textLength="130" lengthAdjust="spacingAndGlyphs">V<tspan font-size="17" dy="-11">π</tspan><tspan font-size="17" dy="17">θ</tspan><tspan dy="-6" class="r">(</tspan>s<tspan font-size="17" dy="6">t</tspan><tspan dy="-6" class="r">) − </tspan>V̄</text>
<path class="dl" d="M1748,1298 Q1762,1322 1748,1346"/>
<text x="1759" y="1305" class="r" font-size="18">2</text>
<path class="dl" d="M1764,1292 H1771 V1351 H1764"/>
</g>

<!-- Critic loss plots -->
<g>
<line x1="2357" y1="862" x2="2402" y2="862" stroke="#1f77b4" stroke-width="4"/>
<line x1="2633" y1="862" x2="2677" y2="862" stroke="#ff7f0e" stroke-width="4"/>
<line x1="2357" y1="896" x2="2400" y2="896" stroke="#111" stroke-width="4" stroke-dasharray="10 6"/>
<line x1="2633" y1="896" x2="2674" y2="896" stroke="#111" stroke-width="4" stroke-dasharray="3 4"/>
<g class="r" font-size="26" fill="#111">
<text x="2420" y="869" textLength="83" lengthAdjust="spacingAndGlyphs">Vlearn</text>
<text x="2695" y="869" textLength="202" lengthAdjust="spacingAndGlyphs">V-trace (1-Step)</text>
<text x="2420" y="903" textLength="191" lengthAdjust="spacingAndGlyphs">Bellman Target</text>
<text x="2695" y="903" textLength="162" lengthAdjust="spacingAndGlyphs">Target Critic</text>
</g>
<g class="m" font-size="28" fill="#111" text-anchor="middle">
<text x="2526" y="943" textLength="88" lengthAdjust="spacingAndGlyphs">ρ <tspan class="r">= 1.0</tspan></text>
<text x="2813" y="943" textLength="88" lengthAdjust="spacingAndGlyphs">ρ <tspan class="r">= 0.5</tspan></text>
<text x="2526" y="1175" textLength="88" lengthAdjust="spacingAndGlyphs">ρ <tspan class="r">= 0.1</tspan></text>
<text x="2813" y="1175" textLength="88" lengthAdjust="spacingAndGlyphs">ρ <tspan class="r">= 0.0</tspan></text>
</g>
<g class="gr" stroke-width="2">
<line x1="2406" y1="957" x2="2406" y2="1123"/><line x1="2466" y1="957" x2="2466" y2="1123"/><line x1="2526" y1="957" x2="2526" y2="1123"/><line x1="2586" y1="957" x2="2586" y2="1123"/><line x1="2646" y1="957" x2="2646" y2="1123"/>
<line x1="2399" y1="1108" x2="2652" y2="1108"/><line x1="2399" y1="1032.5" x2="2652" y2="1032.5"/>
<line x1="2693" y1="957" x2="2693" y2="1123"/><line x1="2753" y1="957" x2="2753" y2="1123"/><line x1="2813" y1="957" x2="2813" y2="1123"/><line x1="2873" y1="957" x2="2873" y2="1123"/><line x1="2933" y1="957" x2="2933" y2="1123"/>
<line x1="2686" y1="1108" x2="2940" y2="1108"/><line x1="2686" y1="1032.5" x2="2940" y2="1032.5"/>
<line x1="2406" y1="1187" x2="2406" y2="1353"/><line x1="2466" y1="1187" x2="2466" y2="1353"/><line x1="2526" y1="1187" x2="2526" y2="1353"/><line x1="2586" y1="1187" x2="2586" y2="1353"/><line x1="2646" y1="1187" x2="2646" y2="1353"/>
<line x1="2399" y1="1338" x2="2652" y2="1338"/><line x1="2399" y1="1262.5" x2="2652" y2="1262.5"/>
<line x1="2693" y1="1187" x2="2693" y2="1353"/><line x1="2753" y1="1187" x2="2753" y2="1353"/><line x1="2813" y1="1187" x2="2813" y2="1353"/><line x1="2873" y1="1187" x2="2873" y2="1353"/><line x1="2933" y1="1187" x2="2933" y2="1353"/>
<line x1="2686" y1="1338" x2="2940" y2="1338"/><line x1="2686" y1="1262.5" x2="2940" y2="1262.5"/>
</g>
<g fill="none" stroke-width="4">
<path d="M2536.1,957 Q2574,1259 2611.9,957" stroke="#1f77b4"/>
<path d="M2536.1,957 Q2574,1259 2611.9,957" stroke="#ff7f0e" stroke-dasharray="9 9"/>
<path d="M2807.3,957 Q2861,1259 2914.7,957" stroke="#1f77b4"/>
<path d="M2763.1,957 Q2801,1259 2838.9,957" stroke="#ff7f0e"/>
<path d="M2454,1187 Q2553,1436.2 2652,1274.2" stroke="#1f77b4"/>
<path d="M2428.1,1187 Q2466,1489 2503.9,1187" stroke="#ff7f0e"/>
<path d="M2686,1338 H2940" stroke="#1f77b4"/>
<path d="M2703.1,1187 Q2741,1489 2778.9,1187" stroke="#ff7f0e"/>
</g>
<g stroke="#111" stroke-width="4">
<line x1="2454" y1="957" x2="2454" y2="1123" stroke-dasharray="3 5"/>
<line x1="2574" y1="957" x2="2574" y2="1123" stroke-dasharray="10 6"/>
<line x1="2741" y1="957" x2="2741" y2="1123" stroke-dasharray="3 5"/>
<line x1="2861" y1="957" x2="2861" y2="1123" stroke-dasharray="10 6"/>
<line x1="2454" y1="1187" x2="2454" y2="1353" stroke-dasharray="3 5"/>
<line x1="2574" y1="1187" x2="2574" y2="1353" stroke-dasharray="10 6"/>
<line x1="2741" y1="1187" x2="2741" y2="1353" stroke-dasharray="3 5"/>
<line x1="2861" y1="1187" x2="2861" y2="1353" stroke-dasharray="10 6"/>
</g>
<g fill="none" stroke="#111" stroke-width="2.5">
<rect x="2399" y="957" width="253" height="166"/><rect x="2686" y="957" width="254" height="166"/>
<rect x="2399" y="1187" width="253" height="166"/><rect x="2686" y="1187" width="254" height="166"/>
</g>
<g stroke="#111" stroke-width="2.5">
<line x1="2386" y1="957" x2="2399" y2="957"/><line x1="2386" y1="1032.5" x2="2399" y2="1032.5"/><line x1="2386" y1="1108" x2="2399" y2="1108"/>
<line x1="2673" y1="957" x2="2686" y2="957"/><line x1="2673" y1="1032.5" x2="2686" y2="1032.5"/><line x1="2673" y1="1108" x2="2686" y2="1108"/>
<line x1="2386" y1="1187" x2="2399" y2="1187"/><line x1="2386" y1="1262.5" x2="2399" y2="1262.5"/><line x1="2386" y1="1338" x2="2399" y2="1338"/>
<line x1="2673" y1="1187" x2="2686" y2="1187"/><line x1="2673" y1="1262.5" x2="2686" y2="1262.5"/><line x1="2673" y1="1338" x2="2686" y2="1338"/>
<line x1="2406" y1="1123" x2="2406" y2="1136"/><line x1="2466" y1="1123" x2="2466" y2="1136"/><line x1="2526" y1="1123" x2="2526" y2="1136"/><line x1="2586" y1="1123" x2="2586" y2="1136"/><line x1="2646" y1="1123" x2="2646" y2="1136"/>
<line x1="2693" y1="1123" x2="2693" y2="1136"/><line x1="2753" y1="1123" x2="2753" y2="1136"/><line x1="2813" y1="1123" x2="2813" y2="1136"/><line x1="2873" y1="1123" x2="2873" y2="1136"/><line x1="2933" y1="1123" x2="2933" y2="1136"/>
<line x1="2406" y1="1353" x2="2406" y2="1366"/><line x1="2466" y1="1353" x2="2466" y2="1366"/><line x1="2526" y1="1353" x2="2526" y2="1366"/><line x1="2586" y1="1353" x2="2586" y2="1366"/><line x1="2646" y1="1353" x2="2646" y2="1366"/>
<line x1="2693" y1="1353" x2="2693" y2="1366"/><line x1="2753" y1="1353" x2="2753" y2="1366"/><line x1="2813" y1="1353" x2="2813" y2="1366"/><line x1="2873" y1="1353" x2="2873" y2="1366"/><line x1="2933" y1="1353" x2="2933" y2="1366"/>
</g>
<g class="r" font-size="25" fill="#111" text-anchor="end">
<text x="2378" y="966">10</text><text x="2378" y="1041">5</text><text x="2378" y="1117">0</text>
<text x="2378" y="1196">10</text><text x="2378" y="1271">5</text><text x="2378" y="1347">0</text>
</g>
<g class="r" font-size="25" fill="#111" text-anchor="middle">
<text x="2404" y="1394">−10</text><text x="2464" y="1394">−5</text><text x="2526" y="1394">0</text><text x="2586" y="1394">5</text><text x="2646" y="1394">10</text>
<text x="2691" y="1394">−10</text><text x="2751" y="1394">−5</text><text x="2813" y="1394">0</text><text x="2873" y="1394">5</text><text x="2933" y="1394">10</text>
</g>
<g class="m" font-size="28" fill="#111" text-anchor="middle">
<text x="2526" y="1440">V<tspan font-size="18" dy="6">θ</tspan><tspan class="r" dy="-6">(</tspan>s<tspan font-size="18" dy="6">t</tspan><tspan class="r" dy="-6">)</tspan></text>
<text x="2813" y="1440">V<tspan font-size="18" dy="6">θ</tspan><tspan class="r" dy="-6">(</tspan>s<tspan font-size="18" dy="6">t</tspan><tspan class="r" dy="-6">)</tspan></text>
</g>
<text transform="translate(2327,1040) rotate(-90)" class="r" font-size="28" text-anchor="middle" textLength="133" lengthAdjust="spacingAndGlyphs">Critic Loss</text>
<text transform="translate(2327,1271) rotate(-90)" class="r" font-size="28" text-anchor="middle" textLength="133" lengthAdjust="spacingAndGlyphs">Critic Loss</text>
</g>

<!-- ============ CONTROL PANEL ============ -->
<text x="1124" y="1743" class="b" font-size="38" fill="#111" textLength="786" lengthAdjust="spacingAndGlyphs">Control for High-Dimensional Action Spaces</text>
<g stroke-width="5">
<line x1="1300" y1="1902" x2="1364" y2="1902" stroke="#1f77b4"/>
<line x1="1505" y1="1902" x2="1569" y2="1902" stroke="#ff7f0e"/>
<line x1="1703" y1="1902" x2="1767" y2="1902" stroke="#8c564b"/>
<line x1="1300" y1="1944" x2="1364" y2="1944" stroke="#d62728"/>
<line x1="1505" y1="1944" x2="1569" y2="1944" stroke="#9467bd"/>
<line x1="1703" y1="1944" x2="1767" y2="1944" stroke="#2ca02c"/>
</g>
<g class="s" font-size="28" fill="#111">
<text x="1391" y="1912" textLength="84" lengthAdjust="spacingAndGlyphs">Vlearn</text>
<text x="1594" y="1912" textLength="59" lengthAdjust="spacingAndGlyphs">SAC</text>
<text x="1795" y="1912" textLength="71" lengthAdjust="spacingAndGlyphs">MPO</text>
<text x="1391" y="1954" textLength="63" lengthAdjust="spacingAndGlyphs">PPO</text>
<text x="1594" y="1954" textLength="80" lengthAdjust="spacingAndGlyphs">TRPL</text>
<text x="1795" y="1954" textLength="98" lengthAdjust="spacingAndGlyphs">V-trace</text>
</g>

<!-- image: humanoid -->
<g clip-path="url(#cImg1)">
<rect x="2093" y="1704" width="267" height="326" fill="url(#hum)"/>
<rect x="2093" y="1704" width="267" height="326" fill="url(#chk1)"/>
<g stroke="#000" stroke-linecap="round" fill="none" opacity="0.7">
<path d="M2150,1990 L2170,1945 L2205,1925 L2245,1930 L2270,1965" stroke-width="12"/>
<path d="M2160,1900 L2180,1925" stroke-width="8"/>
<path d="M2245,1930 L2235,1965 L2250,1990" stroke-width="10"/>
</g>
<path d="M2205,1960 L2240,1955 L2255,2000 L2225,2025 Z" fill="#c08a60" opacity="0.18"/>
<g stroke="#8e4a1c" stroke-linecap="round" fill="none">
<path d="M2221,1777 L2190,1788 L2153,1808" stroke-width="10"/>
<path d="M2260,1778 L2263,1830 L2265,1870" stroke-width="7"/>
<path d="M2222,1840 L2185,1868 L2165,1857" stroke-width="13"/>
<path d="M2235,1838 L2268,1892 L2243,1916" stroke-width="13"/>
</g>
<ellipse cx="2244" cy="1757" rx="13" ry="15" fill="#9a5522"/>
<ellipse cx="2238" cy="1791" rx="17" ry="15" fill="#93501f"/>
<ellipse cx="2234" cy="1813" rx="14" ry="11" fill="#8a4a1c"/>
<ellipse cx="2228" cy="1834" rx="17" ry="13" fill="#8a4a1c"/>
</g>
<!-- image: hand -->
<g clip-path="url(#cImg2)">
<rect x="2360" y="1704" width="315" height="326" fill="#000"/>
<g fill="none" stroke-linecap="round">
<path d="M2671,1705 L2560,1862" stroke="#f0f0f0" stroke-width="9"/>
<path d="M2660,1705 L2533,1845" stroke="#d0d0d0" stroke-width="6"/>
<path d="M2668,1706 L2525,1860 M2655,1706 L2515,1852 M2663,1710 L2540,1870 M2650,1712 L2548,1845 M2675,1715 L2560,1880 M2672,1730 L2570,1870" stroke="#e05060" stroke-width="1.5"/>
<path d="M2530,1850 Q2480,1846 2436,1862 M2520,1868 Q2470,1882 2410,1910 M2512,1885 Q2475,1905 2442,1930 M2508,1895 Q2460,1925 2412,1945 M2525,1898 Q2500,1930 2475,1955" stroke="#d8d8d8" stroke-width="6"/>
<path d="M2530,1852 Q2480,1852 2438,1866 M2520,1872 Q2470,1886 2412,1914 M2505,1899 Q2460,1929 2414,1948 M2527,1902 Q2500,1934 2478,1957 M2515,1880 Q2480,1910 2445,1933" stroke="#e05060" stroke-width="1.2"/>
<path d="M2515,1855 L2545,1875 M2512,1870 L2540,1888" stroke="#c8c8c8" stroke-width="7"/>
</g>
<g stroke="#22ee22" stroke-width="3" fill="#22ee22">
<line x1="2436" y1="1862" x2="2402" y2="1839"/><polygon points="2398,1836 2412,1838 2404,1846" stroke="none"/>
<line x1="2410" y1="1910" x2="2416" y2="1874"/><polygon points="2416,1869 2421,1880 2411,1879" stroke="none"/>
<line x1="2443" y1="1929" x2="2452" y2="1894"/><polygon points="2453,1889 2457,1900 2447,1898" stroke="none"/>
<line x1="2412" y1="1944" x2="2379" y2="1925"/><polygon points="2375,1922 2389,1923 2383,1931" stroke="none"/>
<line x1="2475" y1="1955" x2="2516" y2="1920"/><polygon points="2520,1916 2516,1929 2509,1922" stroke="none"/>
</g>
<circle cx="2436" cy="1862" r="4.5" fill="#ff2020"/>
<circle cx="2410" cy="1910" r="4.5" fill="#20c020"/>
<circle cx="2443" cy="1929" r="4.5" fill="#f0e020"/>
<circle cx="2412" cy="1944" r="4.5" fill="#2030ff"/>
<circle cx="2475" cy="1955" r="4.5" fill="#e020e0"/>
</g>
<!-- image: dog -->
<g clip-path="url(#cImg3)">
<rect x="2675" y="1704" width="287" height="56" fill="#2f3d5c"/>
<rect x="2675" y="1760" width="287" height="270" fill="url(#floor)"/>
<rect x="2675" y="1760" width="287" height="270" fill="url(#chk3)"/>
<g fill="#fff" opacity="0.8">
<circle cx="2690" cy="1712" r="1"/><circle cx="2712" cy="1722" r="1"/><circle cx="2735" cy="1710" r="1"/><circle cx="2760" cy="1730" r="1"/><circle cx="2783" cy="1716" r="1"/><circle cx="2805" cy="1740" r="1"/><circle cx="2830" cy="1720" r="1"/><circle cx="2858" cy="1712" r="1"/><circle cx="2880" cy="1733" r="1"/><circle cx="2905" cy="1718" r="1"/><circle cx="2930" cy="1745" r="1"/><circle cx="2950" cy="1710" r="1"/><circle cx="2700" cy="1748" r="1"/><circle cx="2745" cy="1752" r="1"/><circle cx="2820" cy="1752" r="1"/><circle cx="2890" cy="1750" r="1"/><circle cx="2940" cy="1728" r="1"/><circle cx="2770" cy="1706" r="1"/><circle cx="2915" cy="1740" r="1"/><circle cx="2725" cy="1738" r="1"/>
</g>
<path d="M2770,1900 Q2790,1960 2800,2030 L2850,2030 Q2835,1950 2820,1905 Z" fill="#c9d6ea" opacity="0.22"/>
<path d="M2810,1900 Q2860,1920 2880,1945 L2860,1950 Q2830,1930 2800,1915 Z" fill="#0c1424" opacity="0.55"/>
<g fill="#d8957c">
<ellipse cx="2810" cy="1848" rx="46" ry="22" transform="rotate(-25 2810 1848)"/>
<path d="M2828,1838 L2842,1790 L2868,1790 L2860,1848 Z"/>
<ellipse cx="2857" cy="1797" rx="16" ry="21"/>
<polygon points="2846,1792 2850,1764 2859,1790"/>
<polygon points="2863,1800 2886,1810 2867,1819"/>
</g>
<g stroke="#d08a72" stroke-width="7" stroke-linecap="round" fill="none">
<path d="M2776,1862 L2768,1895"/><path d="M2795,1868 L2790,1902"/><path d="M2835,1862 L2830,1908"/><path d="M2852,1856 L2854,1902"/>
</g>
</g>

<!-- Chart M (MyoSuite) -->
<g>
<text x="1457" y="2102" class="d" font-size="20" text-anchor="middle" fill="#111" textLength="226" lengthAdjust="spacingAndGlyphs">MyoSuite - MyoHand</text>
<g class="gr">
<line x1="1233" y1="2114" x2="1233" y2="2316"/><line x1="1322.6" y1="2114" x2="1322.6" y2="2316"/><line x1="1412.2" y1="2114" x2="1412.2" y2="2316"/><line x1="1501.8" y1="2114" x2="1501.8" y2="2316"/><line x1="1591.4" y1="2114" x2="1591.4" y2="2316"/><line x1="1681" y1="2114" x2="1681" y2="2316"/>
<line x1="1223" y1="2308" x2="1688" y2="2308"/><line x1="1223" y1="2269.6" x2="1688" y2="2269.6"/><line x1="1223" y1="2231.2" x2="1688" y2="2231.2"/><line x1="1223" y1="2192.8" x2="1688" y2="2192.8"/><line x1="1223" y1="2154.4" x2="1688" y2="2154.4"/><line x1="1223" y1="2116" x2="1688" y2="2116"/>
</g>
<g clip-path="url(#cM)"><g transform="translate(1233,2308) scale(89.6,-192)">
<polygon points="0,0.005 1.5,0.05 1.8,0.14 2.2,0.1 2.5,0.12 3,0.15 3.5,0.17 3.8,0.14 4,0.16 4.5,0.1 5,0.03 5,0 0,0" fill="#2ca02c" opacity="0.22"/>
<polygon points="4.5,0.06 4.8,0.1 5,0.15 5,0.02 4.5,0.02" fill="#d62728" opacity="0.25"/>
<polyline class="ln" stroke="#ff7f0e" stroke-width="22" opacity="0.2" points="0,0 0.5,0 0.65,0.05 0.8,0.1 0.9,0.07 1,0.12 1.1,0.1 1.25,0.13 1.4,0.17 1.5,0.15 1.65,0.22 1.8,0.2 1.95,0.3 2.05,0.2 2.2,0.25 2.35,0.2 2.5,0.26 2.65,0.2 2.8,0.22 2.95,0.19 3.1,0.24 3.25,0.22 3.4,0.18 3.55,0.27 3.7,0.24 3.85,0.25 4,0.21 4.15,0.27 4.3,0.19 4.45,0.24 4.6,0.21 4.75,0.22 4.9,0.18"/>
<polyline class="ln" stroke="#1f77b4" stroke-width="19" opacity="0.25" points="0,0 0.8,0 1,0.01 1.2,0.03 1.4,0.1 1.55,0.2 1.65,0.35 1.75,0.4 1.85,0.35 1.95,0.42 2.05,0.45 2.2,0.5 2.35,0.55 2.5,0.6 2.6,0.57 2.75,0.63 3,0.64 3.2,0.65 3.35,0.7 3.5,0.67 3.7,0.72 3.85,0.75 4,0.77 4.2,0.79 4.35,0.76 4.5,0.82 4.65,0.86 4.8,0.82 5,0.84"/>
<polyline class="ln" stroke="#9467bd" stroke-width="4" points="0,0 5,0"/>
<polyline class="ln" stroke="#d62728" stroke-width="4" points="0,0 2,0 2.5,0.01 3,0.02 3.5,0.02 4,0.03 4.3,0.05 4.6,0.04 5,0.06"/>
<polyline class="ln" stroke="#2ca02c" stroke-width="4" points="0,0 1.3,0 1.6,0.01 1.9,0.03 2.2,0.02 2.5,0.04 2.8,0.05 3.1,0.04 3.4,0.06 3.7,0.05 4,0.06 4.3,0.04 4.6,0.05 4.8,0.02 5,0.01"/>
<polyline class="ln" stroke="#ff7f0e" stroke-width="4" points="0,0 0.5,0 0.65,0.05 0.8,0.1 0.9,0.07 1,0.12 1.1,0.1 1.25,0.13 1.4,0.17 1.5,0.15 1.65,0.22 1.8,0.2 1.95,0.3 2.05,0.2 2.2,0.25 2.35,0.2 2.5,0.26 2.65,0.2 2.8,0.22 2.95,0.19 3.1,0.24 3.25,0.22 3.4,0.18 3.55,0.27 3.7,0.24 3.85,0.25 4,0.21 4.15,0.27 4.3,0.19 4.45,0.24 4.6,0.21 4.75,0.22 4.9,0.18"/>
<polyline class="ln" stroke="#1f77b4" stroke-width="4" points="0,0 0.8,0 1,0.01 1.2,0.03 1.4,0.1 1.55,0.2 1.65,0.35 1.75,0.4 1.85,0.35 1.95,0.42 2.05,0.45 2.2,0.5 2.35,0.55 2.5,0.6 2.6,0.57 2.75,0.63 3,0.64 3.2,0.65 3.35,0.7 3.5,0.67 3.7,0.72 3.85,0.75 4,0.77 4.2,0.79 4.35,0.76 4.5,0.82 4.65,0.86 4.8,0.82 5,0.84"/>
</g></g>
<rect x="1223" y="2114" width="465" height="202" fill="none" stroke="#111" stroke-width="4"/>
<g stroke="#111" stroke-width="4">
<line x1="1210" y1="2308" x2="1223" y2="2308"/><line x1="1210" y1="2269.6" x2="1223" y2="2269.6"/><line x1="1210" y1="2231.2" x2="1223" y2="2231.2"/><line x1="1210" y1="2192.8" x2="1223" y2="2192.8"/><line x1="1210" y1="2154.4" x2="1223" y2="2154.4"/><line x1="1210" y1="2116" x2="1223" y2="2116"/>
<line x1="1233" y1="2316" x2="1233" y2="2329"/><line x1="1322.6" y1="2316" x2="1322.6" y2="2329"/><line x1="1412.2" y1="2316" x2="1412.2" y2="2329"/><line x1="1501.8" y1="2316" x2="1501.8" y2="2329"/><line x1="1591.4" y1="2316" x2="1591.4" y2="2329"/><line x1="1681" y1="2316" x2="1681" y2="2329"/>
</g>
<g class="r" font-size="19" fill="#111" text-anchor="end">
<text x="1204" y="2315">0</text><text x="1204" y="2277">0.2</text><text x="1204" y="2238">0.4</text><text x="1204" y="2200">0.6</text><text x="1204" y="2161">0.8</text><text x="1204" y="2123">1</text>
</g>
<g class="r" font-size="19" fill="#111" text-anchor="middle">
<text x="1233" y="2350">0</text><text x="1322.6" y="2350">1</text><text x="1412.2" y="2350">2</text><text x="1501.8" y="2350">3</text><text x="1591.4" y="2350">4</text><text x="1681" y="2350">5</text>
</g>
<text x="1457" y="2375" class="d" font-size="20" text-anchor="middle" fill="#111" textLength="202" lengthAdjust="spacingAndGlyphs">Env. Steps (×10<tspan font-size="13" dy="-8">6</tspan><tspan dy="8">)</tspan></text>
<text transform="translate(1163,2216) rotate(-90)" class="d" font-size="20" text-anchor="middle" fill="#111" textLength="78" lengthAdjust="spacingAndGlyphs">Success</text>
</g>

<!-- Chart A (Ant-v4) -->
<g>
<text x="2078" y="2104" class="d" font-size="23" text-anchor="middle" fill="#111" textLength="86" lengthAdjust="spacingAndGlyphs">Ant-v4</text>
<g class="gr">
<line x1="1871" y1="2114" x2="1871" y2="2311"/><line x1="1953.8" y1="2114" x2="1953.8" y2="2311"/><line x1="2036.6" y1="2114" x2="2036.6" y2="2311"/><line x1="2119.4" y1="2114" x2="2119.4" y2="2311"/><line x1="2202.2" y1="2114" x2="2202.2" y2="2311"/><line x1="2285" y1="2114" x2="2285" y2="2311"/>
<line x1="1863" y1="2306" x2="2294" y2="2306"/><line x1="1863" y1="2251.7" x2="2294" y2="2251.7"/><line x1="1863" y1="2197.3" x2="2294" y2="2197.3"/><line x1="1863" y1="2143" x2="2294" y2="2143"/>
</g>
<g clip-path="url(#cA)"><g transform="translate(1871,2306) scale(82.8,-0.027167)">
<polyline class="ln" stroke="#d62728" stroke-width="24" opacity="0.2" points="0,800 0.15,200 0.3,600 0.45,1600 0.6,2500 0.75,3100 1,3600 1.25,3800 1.4,3900 1.6,3700 1.75,3800 2,3600 2.25,3500 2.5,3600 2.75,3300 3,3000 3.25,3200 3.5,3300 3.75,3100 4,3100 4.25,2900 4.5,2900 4.75,2800 5,2500"/>
<polyline class="ln" stroke="#9467bd" stroke-width="22" opacity="0.2" points="0,300 0.3,100 0.5,100 0.7,800 0.85,1900 1,2800 1.25,3500 1.5,3900 1.75,4000 2,4100 2.25,4200 2.5,4300 2.75,4400 3,4500 3.25,4500 3.5,4400 3.75,4400 4,4400 4.25,4500 4.5,4400 4.75,4500 5,4400"/>
<polyline class="ln" stroke="#ff7f0e" stroke-width="22" opacity="0.2" points="0,600 0.15,200 0.3,1500 0.45,2800 0.6,3500 0.75,3800 1,4200 1.25,4500 1.5,4600 1.75,5000 2,5500 2.25,5300 2.5,5500 2.75,5600 3,5600 3.25,5800 3.5,6000 3.75,5700 4,5500 4.25,5500 4.5,5500 4.75,5900 5,6100"/>
<polyline class="ln" stroke="#8c564b" stroke-width="11" opacity="0.2" points="0,400 0.15,200 0.3,300 0.5,600 0.75,900 1,1100 1.25,1300 1.5,1500 1.75,1700 2,1700 2.25,1900 2.5,2100 2.75,2100 3,2200 3.25,2100 3.5,2300 3.75,2400 4,2300 4.25,2500 4.5,2400 4.75,2600 5,2700"/>
<polyline class="ln" stroke="#1f77b4" stroke-width="9" opacity="0.25" points="0,900 0.1,500 0.2,100 0.3,600 0.4,1800 0.5,2800 0.6,3600 0.75,4500 0.9,5100 1,5400 1.25,5800 1.5,6000 1.75,6200 2,6300 2.25,6200 2.5,6300 2.75,6300 3,6300 3.25,6350 3.5,6300 3.75,6350 4,6250 4.25,6300 4.5,6400 4.75,6300 5,6250"/>
<polyline class="ln" stroke="#2ca02c" stroke-width="4.5" points="0,300 0.15,100 0.25,0 4.7,0"/>
<polyline class="ln" stroke="#8c564b" stroke-width="4" points="0,400 0.15,200 0.3,300 0.5,600 0.75,900 1,1100 1.25,1300 1.5,1500 1.75,1700 2,1700 2.25,1900 2.5,2100 2.75,2100 3,2200 3.25,2100 3.5,2300 3.75,2400 4,2300 4.25,2500 4.5,2400 4.75,2600 5,2700"/>
<polyline class="ln" stroke="#d62728" stroke-width="4" points="0,800 0.15,200 0.3,600 0.45,1600 0.6,2500 0.75,3100 1,3600 1.25,3800 1.4,3900 1.6,3700 1.75,3800 2,3600 2.25,3500 2.5,3600 2.75,3300 3,3000 3.25,3200 3.5,3300 3.75,3100 4,3100 4.25,2900 4.5,2900 4.75,2800 5,2500"/>
<polyline class="ln" stroke="#9467bd" stroke-width="4" points="0,300 0.3,100 0.5,100 0.7,800 0.85,1900 1,2800 1.25,3500 1.5,3900 1.75,4000 2,4100 2.25,4200 2.5,4300 2.75,4400 3,4500 3.25,4500 3.5,4400 3.75,4400 4,4400 4.25,4500 4.5,4400 4.75,4500 5,4400"/>
<polyline class="ln" stroke="#ff7f0e" stroke-width="4" points="0,600 0.15,200 0.3,1500 0.45,2800 0.6,3500 0.75,3800 1,4200 1.25,4500 1.5,4600 1.75,5000 2,5500 2.25,5300 2.5,5500 2.75,5600 3,5600 3.25,5800 3.5,6000 3.75,5700 4,5500 4.25,5500 4.5,5500 4.75,5900 5,6100"/>
<polyline class="ln" stroke="#1f77b4" stroke-width="4.5" points="0,900 0.1,500 0.2,100 0.3,600 0.4,1800 0.5,2800 0.6,3600 0.75,4500 0.9,5100 1,5400 1.25,5800 1.5,6000 1.75,6200 2,6300 2.25,6200 2.5,6300 2.75,6300 3,6300 3.25,6350 3.5,6300 3.75,6350 4,6250 4.25,6300 4.5,6400 4.75,6300 5,6250"/>
</g></g>
<rect x="1863" y="2114" width="431" height="197" fill="none" stroke="#111" stroke-width="4"/>
<g stroke="#111" stroke-width="4">
<line x1="1850" y1="2306" x2="1863" y2="2306"/><line x1="1850" y1="2251.7" x2="1863" y2="2251.7"/><line x1="1850" y1="2197.3" x2="1863" y2="2197.3"/><line x1="1850" y1="2143" x2="1863" y2="2143"/>
<line x1="1871" y1="2311" x2="1871" y2="2324"/><line x1="1953.8" y1="2311" x2="1953.8" y2="2324"/><line x1="2036.6" y1="2311" x2="2036.6" y2="2324"/><line x1="2119.4" y1="2311" x2="2119.4" y2="2324"/><line x1="2202.2" y1="2311" x2="2202.2" y2="2324"/><line x1="2285" y1="2311" x2="2285" y2="2324"/>
</g>
<g class="r" font-size="21" fill="#111" text-anchor="end">
<text x="1834" y="2313">0</text><text x="1834" y="2259">2,000</text><text x="1834" y="2204">4,000</text><text x="1834" y="2150">6,000</text>
</g>
<g class="r" font-size="21" fill="#111" text-anchor="middle">
<text x="1871" y="2354">0</text><text x="1953.8" y="2354">1</text><text x="2036.6" y="2354">2</text><text x="2119.4" y="2354">3</text><text x="2202.2" y="2354">4</text><text x="2285" y="2354">5</text>
</g>
<text x="2078" y="2384" class="d" font-size="23" text-anchor="middle" fill="#111" textLength="239" lengthAdjust="spacingAndGlyphs">Env. Steps (×10<tspan font-size="15" dy="-9">6</tspan><tspan dy="9">)</tspan></text>
<text transform="translate(1763,2214) rotate(-90)" class="d" font-size="24" text-anchor="middle" fill="#111" textLength="89" lengthAdjust="spacingAndGlyphs">Reward</text>
</g>

<!-- Chart H (Humanoid-v4) -->
<g>
<text x="2709" y="2104" class="d" font-size="23" text-anchor="middle" fill="#111" textLength="171" lengthAdjust="spacingAndGlyphs">Humanoid-v4</text>
<g class="gr">
<line x1="2500" y1="2114" x2="2500" y2="2311"/><line x1="2583" y1="2114" x2="2583" y2="2311"/><line x1="2666" y1="2114" x2="2666" y2="2311"/><line x1="2749" y1="2114" x2="2749" y2="2311"/><line x1="2832" y1="2114" x2="2832" y2="2311"/><line x1="2915" y1="2114" x2="2915" y2="2311"/>
<line x1="2493" y1="2306" x2="2924" y2="2306"/><line x1="2493" y1="2267.25" x2="2924" y2="2267.25"/><line x1="2493" y1="2228.5" x2="2924" y2="2228.5"/><line x1="2493" y1="2189.75" x2="2924" y2="2189.75"/><line x1="2493" y1="2151" x2="2924" y2="2151"/>
</g>
<g clip-path="url(#cH)"><g transform="translate(2500,2306) scale(83,-0.019375)">
<polygon points="0,600 0.3,1200 0.5,1900 0.9,2000 1.0,1400 1.1,500 1.3,250 3.8,350 3.8,150 1.3,50 1.1,100 0.9,300 0.3,300 0,300" fill="#2ca02c" opacity="0.25"/>
<polygon points="2.5,450 2.8,700 3,1000 3,300 2.5,300" fill="#8c564b" opacity="0.25"/>
<polyline class="ln" stroke="#9467bd" stroke-width="9" opacity="0.25" points="0,300 0.5,300 1,350 1.25,400 1.5,600 1.75,800 2,1200 2.25,1600 2.5,2000 2.75,2400 3,2800 3.25,3100 3.5,3400 3.75,3700 4,3900 4.25,4100 4.5,4200 4.75,4300 5,4400"/>
<polyline class="ln" stroke="#d62728" stroke-width="7" opacity="0.25" points="0,300 1,300 1.5,350 1.75,500 2,700 2.25,1100 2.5,1500 2.75,1900 3,2300 3.25,2700 3.5,3000 3.75,3300 4,3500 4.25,3700 4.5,3800 4.75,3900 5,4000"/>
<polyline class="ln" stroke="#ff7f0e" stroke-width="9" opacity="0.25" points="0,400 0.15,800 0.3,2500 0.4,4000 0.5,4700 0.75,5000 1,5200 1.25,5400 1.5,5600 1.75,5800 2,6100 2.25,6400 2.5,6500 2.75,6700 3,6800 3.25,6900 3.5,7000 3.75,7100 4,7100 4.25,7000 4.5,7100 4.75,7200 5,7400"/>
<polyline class="ln" stroke="#1f77b4" stroke-width="12" opacity="0.25" points="0,500 0.2,700 0.35,1500 0.45,3000 0.55,4500 0.65,5500 0.8,6200 1,6600 1.25,7000 1.5,7300 1.75,7500 2,7700 2.25,7800 2.5,8000 2.75,8100 3,8200 3.25,8300 3.5,8400 3.75,8500 4,8600 4.25,8600 4.5,8700 4.75,8800 5,8700"/>
<polyline class="ln" stroke="#2ca02c" stroke-width="4.5" points="0,500 0.3,600 0.6,700 0.9,700 1,600 1.1,300 1.2,150 2,150 2.5,200 3,250 3.5,250 3.8,250"/>
<polyline class="ln" stroke="#8c564b" stroke-width="4.5" points="0,300 0.5,350 1,350 1.5,400 2,400 2.5,400 3,450"/>
<polyline class="ln" stroke="#d62728" stroke-width="4" points="0,300 1,300 1.5,350 1.75,500 2,700 2.25,1100 2.5,1500 2.75,1900 3,2300 3.25,2700 3.5,3000 3.75,3300 4,3500 4.25,3700 4.5,3800 4.75,3900 5,4000"/>
<polyline class="ln" stroke="#9467bd" stroke-width="4" points="0,300 0.5,300 1,350 1.25,400 1.5,600 1.75,800 2,1200 2.25,1600 2.5,2000 2.75,2400 3,2800 3.25,3100 3.5,3400 3.75,3700 4,3900 4.25,4100 4.5,4200 4.75,4300 5,4400"/>
<polyline class="ln" stroke="#ff7f0e" stroke-width="4" points="0,400 0.15,800 0.3,2500 0.4,4000 0.5,4700 0.75,5000 1,5200 1.25,5400 1.5,5600 1.75,5800 2,6100 2.25,6400 2.5,6500 2.75,6700 3,6800 3.25,6900 3.5,7000 3.75,7100 4,7100 4.25,7000 4.5,7100 4.75,7200 5,7400"/>
<polyline class="ln" stroke="#1f77b4" stroke-width="4.5" points="0,500 0.2,700 0.35,1500 0.45,3000 0.55,4500 0.65,5500 0.8,6200 1,6600 1.25,7000 1.5,7300 1.75,7500 2,7700 2.25,7800 2.5,8000 2.75,8100 3,8200 3.25,8300 3.5,8400 3.75,8500 4,8600 4.25,8600 4.5,8700 4.75,8800 5,8700"/>
</g></g>
<rect x="2493" y="2114" width="431" height="197" fill="none" stroke="#111" stroke-width="4"/>
<g stroke="#111" stroke-width="4">
<line x1="2480" y1="2306" x2="2493" y2="2306"/><line x1="2480" y1="2267.25" x2="2493" y2="2267.25"/><line x1="2480" y1="2228.5" x2="2493" y2="2228.5"/><line x1="2480" y1="2189.75" x2="2493" y2="2189.75"/><line x1="2480" y1="2151" x2="2493" y2="2151"/>
<line x1="2500" y1="2311" x2="2500" y2="2324"/><line x1="2583" y1="2311" x2="2583" y2="2324"/><line x1="2666" y1="2311" x2="2666" y2="2324"/><line x1="2749" y1="2311" x2="2749" y2="2324"/><line x1="2832" y1="2311" x2="2832" y2="2324"/><line x1="2915" y1="2311" x2="2915" y2="2324"/>
</g>
<g class="r" font-size="21" fill="#111" text-anchor="end">
<text x="2465" y="2313">0</text><text x="2465" y="2274">2,000</text><text x="2465" y="2236">4,000</text><text x="2465" y="2197">6,000</text><text x="2465" y="2158">8,000</text>
</g>
<g class="r" font-size="21" fill="#111" text-anchor="middle">
<text x="2500" y="2354">0</text><text x="2583" y="2354">1</text><text x="2666" y="2354">2</text><text x="2749" y="2354">3</text><text x="2832" y="2354">4</text><text x="2915" y="2354">5</text>
</g>
<text x="2709" y="2384" class="d" font-size="23" text-anchor="middle" fill="#111" textLength="239" lengthAdjust="spacingAndGlyphs">Env. Steps (×10<tspan font-size="15" dy="-9">6</tspan><tspan dy="9">)</tspan></text>
<text transform="translate(2394,2214) rotate(-90)" class="d" font-size="24" text-anchor="middle" fill="#111" textLength="89" lengthAdjust="spacingAndGlyphs">Reward</text>
</g>

<!-- Chart W (dog-walk) -->
<g>
<text x="1473" y="2441" class="d" font-size="23" text-anchor="middle" fill="#111" textLength="114" lengthAdjust="spacingAndGlyphs">dog-walk</text>
<g class="gr">
<line x1="1266" y1="2457" x2="1266" y2="2655"/><line x1="1349" y1="2457" x2="1349" y2="2655"/><line x1="1432" y1="2457" x2="1432" y2="2655"/><line x1="1515" y1="2457" x2="1515" y2="2655"/><line x1="1598" y1="2457" x2="1598" y2="2655"/><line x1="1681" y1="2457" x2="1681" y2="2655"/>
<line x1="1257" y1="2644" x2="1688" y2="2644"/><line x1="1257" y1="2550.5" x2="1688" y2="2550.5"/>
</g>
<g clip-path="url(#cW)"><g transform="translate(1266,2644) scale(83,-0.187)">
<polygon points="0,20 0.8,60 1,300 1.3,450 1.6,650 1.9,750 2.2,780 2.5,820 2.8,750 3,650 3.3,550 3.6,400 3.9,300 4.2,320 4.5,300 4.9,330 4.9,60 4.5,40 4.2,80 3.9,60 3.6,100 3.3,150 3,200 2.8,280 2.5,320 2.2,300 1.9,300 1.6,200 1.3,150 1,60 0.8,10 0,5" fill="#ff7f0e" opacity="0.22"/>
<polygon points="0,15 2,35 3,90 3.5,130 4,170 4.5,200 5,230 5,20 4,10 3,10 0,5" fill="#2ca02c" opacity="0.2"/>
<polygon points="1,40 1.3,80 1.5,60 1.7,110 2,60 2.5,140 2.7,30 2.7,0 1,0" fill="#8c564b" opacity="0.2"/>
<polyline class="ln" stroke="#1f77b4" stroke-width="11" opacity="0.25" points="0,30 0.25,130 0.5,250 0.75,340 1,430 1.25,510 1.5,570 1.75,620 2,660 2.25,700 2.5,730 2.75,760 3,780 3.25,795 3.5,810 3.75,825 4,840 4.25,850 4.5,860 4.75,865 5,870"/>
<polyline class="ln" stroke="#d62728" stroke-width="8" opacity="0.25" points="0,20 0.25,60 0.5,100 0.75,140 1,175 1.5,225 2,270 2.5,310 3,350 3.5,385 4,420 4.5,450 4.9,465"/>
<polyline class="ln" stroke="#9467bd" stroke-width="8" opacity="0.25" points="0,20 0.25,55 0.5,90 0.75,130 1,165 1.5,210 2,245 2.5,275 3,300 3.5,320 4,340 4.5,360 4.9,375"/>
<polyline class="ln" stroke="#2ca02c" stroke-width="4.5" points="0,10 1,15 2,25 2.5,30 3,40 3.5,50 4,60 4.5,80 5,100"/>
<polyline class="ln" stroke="#8c564b" stroke-width="4" points="0,20 0.2,30 0.4,25 0.6,30 0.8,20 1,40 1.2,30 1.35,60 1.5,30 1.65,50 1.8,30 1.9,40 2.05,20 2.2,50 2.35,40 2.5,70 2.6,30 2.7,10"/>
<polyline class="ln" stroke="#ff7f0e" stroke-width="4" points="0,10 0.5,15 0.8,30 0.95,120 1.05,250 1.15,200 1.3,330 1.5,480 1.6,400 1.7,420 1.8,520 1.9,580 2.0,470 2.1,600 2.2,500 2.35,560 2.45,640 2.55,480 2.65,550 2.75,420 2.85,550 2.95,540 3.05,380 3.15,420 3.3,300 3.45,280 3.6,220 3.75,180 3.9,120 4.05,230 4.2,170 4.35,200 4.5,110 4.6,150 4.75,180 4.9,200"/>
<polyline class="ln" stroke="#9467bd" stroke-width="5" points="0,20 0.25,55 0.5,90 0.75,130 1,165 1.5,210 2,245 2.5,275 3,300 3.5,320 4,340 4.5,360 4.9,375"/>
<polyline class="ln" stroke="#d62728" stroke-width="5" points="0,20 0.25,60 0.5,100 0.75,140 1,175 1.5,225 2,270 2.5,310 3,350 3.5,385 4,420 4.5,450 4.9,465"/>
<polyline class="ln" stroke="#1f77b4" stroke-width="4.5" points="0,30 0.25,130 0.5,250 0.75,340 1,430 1.25,510 1.5,570 1.75,620 2,660 2.25,700 2.5,730 2.75,760 3,780 3.25,795 3.5,810 3.75,825 4,840 4.25,850 4.5,860 4.75,865 5,870"/>
</g></g>
<rect x="1257" y="2457" width="431" height="198" fill="none" stroke="#111" stroke-width="4"/>
<g stroke="#111" stroke-width="4">
<line x1="1244" y1="2644" x2="1257" y2="2644"/><line x1="1244" y1="2550.5" x2="1257" y2="2550.5"/><line x1="1244" y1="2457" x2="1257" y2="2457"/>
<line x1="1266" y1="2655" x2="1266" y2="2668"/><line x1="1349" y1="2655" x2="1349" y2="2668"/><line x1="1432" y1="2655" x2="1432" y2="2668"/><line x1="1515" y1="2655" x2="1515" y2="2668"/><line x1="1598" y1="2655" x2="1598" y2="2668"/><line x1="1681" y1="2655" x2="1681" y2="2668"/>
</g>
<g class="r" font-size="21" fill="#111" text-anchor="end">
<text x="1231" y="2651">0</text><text x="1231" y="2558">500</text><text x="1231" y="2464">1,000</text>
</g>
<g class="r" font-size="21" fill="#111" text-anchor="middle">
<text x="1266" y="2696">0</text><text x="1349" y="2696">1</text><text x="1432" y="2696">2</text><text x="1515" y="2696">3</text><text x="1598" y="2696">4</text><text x="1681" y="2696">5</text>
</g>
<text x="1473" y="2727" class="d" font-size="23" text-anchor="middle" fill="#111" textLength="239" lengthAdjust="spacingAndGlyphs">Env. Steps (×10<tspan font-size="15" dy="-9">6</tspan><tspan dy="9">)</tspan></text>
<text transform="translate(1160,2555) rotate(-90)" class="d" font-size="24" text-anchor="middle" fill="#111" textLength="89" lengthAdjust="spacingAndGlyphs">Reward</text>
</g>

<!-- Chart T (dog-trot) -->
<g>
<text x="2078" y="2441" class="d" font-size="23" text-anchor="middle" fill="#111" textLength="105" lengthAdjust="spacingAndGlyphs">dog-trot</text>
<g class="gr">
<line x1="1871" y1="2457" x2="1871" y2="2655"/><line x1="1953.8" y1="2457" x2="1953.8" y2="2655"/><line x1="2036.6" y1="2457" x2="2036.6" y2="2655"/><line x1="2119.4" y1="2457" x2="2119.4" y2="2655"/><line x1="2202.2" y1="2457" x2="2202.2" y2="2655"/><line x1="2285" y1="2457" x2="2285" y2="2655"/>
<line x1="1863" y1="2644" x2="2294" y2="2644"/><line x1="1863" y1="2550.5" x2="2294" y2="2550.5"/>
</g>
<g clip-path="url(#cT)"><g transform="translate(1871,2644) scale(82.8,-0.187)">
<polygon points="0,20 0.5,80 1,200 1.5,380 2,500 2.5,470 3,520 3.5,460 4,350 4.5,380 4.9,390 4.9,100 4.5,110 4,30 3.5,120 3,180 2.5,170 2,160 1.5,100 1,40 0.5,10 0,5" fill="#ff7f0e" opacity="0.22"/>
<polygon points="0,5 2,20 3,60 4,120 5,190 5,30 3,0 0,0" fill="#2ca02c" opacity="0.2"/>
<polyline class="ln" stroke="#1f77b4" stroke-width="11" opacity="0.25" points="0,20 0.25,50 0.5,110 0.75,180 1,260 1.25,360 1.5,450 1.75,530 2,600 2.25,650 2.5,690 2.75,710 3,730 3.25,745 3.5,755 3.75,760 4,770 4.25,780 4.5,790 4.75,795 5,800"/>
<polyline class="ln" stroke="#d62728" stroke-width="8" opacity="0.25" points="0,20 0.5,60 1,100 1.5,130 2,160 2.5,190 3,220 3.5,245 4,270 4.5,290 4.9,305"/>
<polyline class="ln" stroke="#9467bd" stroke-width="8" opacity="0.25" points="0,20 0.5,55 1,90 1.5,115 2,140 2.5,160 3,180 3.5,195 4,210 4.5,220 4.9,230"/>
<polyline class="ln" stroke="#2ca02c" stroke-width="4.5" points="0,0 1,0 2,5 2.5,10 3,20 3.5,40 4,60 4.5,80 5,100"/>
<polyline class="ln" stroke="#8c564b" stroke-width="4" points="0,10 0.5,15 1,10 1.5,12 2,10 2.5,15 2.8,10"/>
<polyline class="ln" stroke="#ff7f0e" stroke-width="4" points="0,10 0.3,20 0.5,40 0.75,80 1,110 1.25,160 1.5,220 1.75,280 1.95,310 2.1,290 2.25,250 2.4,300 2.55,320 2.7,280 2.85,300 3.0,290 3.1,330 3.2,350 3.35,300 3.5,280 3.65,250 3.8,200 3.95,130 4.1,200 4.3,250 4.5,240 4.7,250 4.9,240"/>
<polyline class="ln" stroke="#9467bd" stroke-width="5" points="0,20 0.5,55 1,90 1.5,115 2,140 2.5,160 3,180 3.5,195 4,210 4.5,220 4.9,230"/>
<polyline class="ln" stroke="#d62728" stroke-width="5" points="0,20 0.5,60 1,100 1.5,130 2,160 2.5,190 3,220 3.5,245 4,270 4.5,290 4.9,305"/>
<polyline class="ln" stroke="#1f77b4" stroke-width="4.5" points="0,20 0.25,50 0.5,110 0.75,180 1,260 1.25,360 1.5,450 1.75,530 2,600 2.25,650 2.5,690 2.75,710 3,730 3.25,745 3.5,755 3.75,760 4,770 4.25,780 4.5,790 4.75,795 5,800"/>
</g></g>
<rect x="1863" y="2457" width="431" height="198" fill="none" stroke="#111" stroke-width="4"/>
<g stroke="#111" stroke-width="4">
<line x1="1850" y1="2644" x2="1863" y2="2644"/><line x1="1850" y1="2550.5" x2="1863" y2="2550.5"/><line x1="1850" y1="2457" x2="1863" y2="2457"/>
<line x1="1871" y1="2655" x2="1871" y2="2668"/><line x1="1953.8" y1="2655" x2="1953.8" y2="2668"/><line x1="2036.6" y1="2655" x2="2036.6" y2="2668"/><line x1="2119.4" y1="2655" x2="2119.4" y2="2668"/><line x1="2202.2" y1="2655" x2="2202.2" y2="2668"/><line x1="2285" y1="2655" x2="2285" y2="2668"/>
</g>
<g class="r" font-size="21" fill="#111" text-anchor="end">
<text x="1834" y="2651">0</text><text x="1834" y="2558">500</text><text x="1834" y="2464">1,000</text>
</g>
<g class="r" font-size="21" fill="#111" text-anchor="middle">
<text x="1871" y="2696">0</text><text x="1953.8" y="2696">1</text><text x="2036.6" y="2696">2</text><text x="2119.4" y="2696">3</text><text x="2202.2" y="2696">4</text><text x="2285" y="2696">5</text>
</g>
<text x="2078" y="2727" class="d" font-size="23" text-anchor="middle" fill="#111" textLength="239" lengthAdjust="spacingAndGlyphs">Env. Steps (×10<tspan font-size="15" dy="-9">6</tspan><tspan dy="9">)</tspan></text>
<text transform="translate(1763,2555) rotate(-90)" class="d" font-size="24" text-anchor="middle" fill="#111" textLength="89" lengthAdjust="spacingAndGlyphs">Reward</text>
</g>

<!-- Chart R (dog-run) -->
<g>
<text x="2709" y="2441" class="d" font-size="23" text-anchor="middle" fill="#111" textLength="98" lengthAdjust="spacingAndGlyphs">dog-run</text>
<g class="gr">
<line x1="2500" y1="2457" x2="2500" y2="2655"/><line x1="2583" y1="2457" x2="2583" y2="2655"/><line x1="2666" y1="2457" x2="2666" y2="2655"/><line x1="2749" y1="2457" x2="2749" y2="2655"/><line x1="2832" y1="2457" x2="2832" y2="2655"/><line x1="2915" y1="2457" x2="2915" y2="2655"/>
<line x1="2493" y1="2644" x2="2924" y2="2644"/><line x1="2493" y1="2550.5" x2="2924" y2="2550.5"/>
</g>
<g clip-path="url(#cR)"><g transform="translate(2500,2644) scale(83,-0.187)">
<polygon points="0,20 1,120 1.5,180 2,200 2.5,220 3,240 3.5,280 4,220 4.5,250 4.9,180 4.9,30 4.5,90 4,70 3.5,100 3,80 2.5,70 2,60 1.5,60 1,40 0,5" fill="#ff7f0e" opacity="0.22"/>
<polyline class="ln" stroke="#1f77b4" stroke-width="9" opacity="0.25" points="0,20 0.25,50 0.5,80 0.75,105 1,130 1.5,175 2,215 2.5,255 3,290 3.5,320 4,345 4.5,365 5,380"/>
<polyline class="ln" stroke="#d62728" stroke-width="7" opacity="0.25" points="0,20 0.5,55 1,85 1.5,105 2,120 2.5,135 3,145 3.5,155 4,160 4.5,165 4.9,170"/>
<polyline class="ln" stroke="#2ca02c" stroke-width="4.5" points="0,0 2,2 3,5 4,10 5,15"/>
<polyline class="ln" stroke="#8c564b" stroke-width="4" points="0,20 0.3,40 0.5,30 0.7,45 0.9,25 1.1,30 1.3,20 1.6,25 1.9,15 2.2,20 2.5,15 2.7,10"/>
<polyline class="ln" stroke="#ff7f0e" stroke-width="4" points="0,10 0.5,30 0.75,60 1,80 1.2,110 1.4,90 1.6,130 1.8,100 2,140 2.2,110 2.4,130 2.6,150 2.8,120 3,160 3.2,140 3.4,180 3.6,150 3.8,170 4,130 4.2,170 4.4,190 4.6,150 4.8,160 4.9,100"/>
<polyline class="ln" stroke="#9467bd" stroke-width="5" points="0,20 0.5,50 1,75 1.5,95 2,110 2.5,120 3,130 3.5,138 4,145 4.5,150 4.9,155"/>
<polyline class="ln" stroke="#d62728" stroke-width="5" points="0,20 0.5,55 1,85 1.5,105 2,120 2.5,135 3,145 3.5,155 4,160 4.5,165 4.9,170"/>
<polyline class="ln" stroke="#1f77b4" stroke-width="4.5" points="0,20 0.25,50 0.5,80 0.75,105 1,130 1.5,175 2,215 2.5,255 3,290 3.5,320 4,345 4.5,365 5,380"/>
</g></g>
<rect x="2493" y="2457" width="431" height="198" fill="none" stroke="#111" stroke-width="4"/>
<g stroke="#111" stroke-width="4">
<line x1="2480" y1="2644" x2="2493" y2="2644"/><line x1="2480" y1="2550.5" x2="2493" y2="2550.5"/><line x1="2480" y1="2457" x2="2493" y2="2457"/>
<line x1="2500" y1="2655" x2="2500" y2="2668"/><line x1="2583" y1="2655" x2="2583" y2="2668"/><line x1="2666" y1="2655" x2="2666" y2="2668"/><line x1="2749" y1="2655" x2="2749" y2="2668"/><line x1="2832" y1="2655" x2="2832" y2="2668"/><line x1="2915" y1="2655" x2="2915" y2="2668"/>
</g>
<g class="r" font-size="21" fill="#111" text-anchor="end">
<text x="2465" y="2651">0</text><text x="2465" y="2558">500</text><text x="2465" y="2464">1,000</text>
</g>
<g class="r" font-size="21" fill="#111" text-anchor="middle">
<text x="2500" y="2696">0</text><text x="2583" y="2696">1</text><text x="2666" y="2696">2</text><text x="2749" y="2696">3</text><text x="2832" y="2696">4</text><text x="2915" y="2696">5</text>
</g>
<text x="2709" y="2727" class="d" font-size="23" text-anchor="middle" fill="#111" textLength="239" lengthAdjust="spacingAndGlyphs">Env. Steps (×10<tspan font-size="15" dy="-9">6</tspan><tspan dy="9">)</tspan></text>
<text transform="translate(2394,2555) rotate(-90)" class="d" font-size="24" text-anchor="middle" fill="#111" textLength="89" lengthAdjust="spacingAndGlyphs">Reward</text>
</g>

<!-- ============ TAKE-AWAY ============ -->
<g class="s" fill="#111" font-size="28">
<text x="3114" y="759" class="b" font-size="38" textLength="362" lengthAdjust="spacingAndGlyphs">Take-Away Message</text>
<text x="3118" y="854">•</text><text x="3148" y="854" textLength="772" lengthAdjust="spacingAndGlyphs">Vlearn offers a new perspective and practical insights</text>
<text x="3148" y="895" textLength="770" lengthAdjust="spacingAndGlyphs">for deep off-policy RL by demonstrating the feasibility</text>
<text x="3148" y="935" textLength="755" lengthAdjust="spacingAndGlyphs">and benefits of using state-value functions as critics</text>
<text x="3118" y="1018">•</text><text x="3148" y="1018" textLength="764" lengthAdjust="spacingAndGlyphs">Vlearn improves performance for higher dimensional</text>
<text x="3148" y="1057" textLength="202" lengthAdjust="spacingAndGlyphs">action spaces</text>
<text x="3118" y="1140">•</text><text x="3148" y="1140" textLength="724" lengthAdjust="spacingAndGlyphs">Applicability to deep RL requires additional design</text>
<text x="3148" y="1180" textLength="122" lengthAdjust="spacingAndGlyphs">changes</text>
<text x="3118" y="1261">•</text><text x="3148" y="1261" textLength="654" lengthAdjust="spacingAndGlyphs">Proper trust regions via TRPL are essential for</text>
<text x="3148" y="1302" textLength="314" lengthAdjust="spacingAndGlyphs">performance benefits</text>
</g>

<!-- ============ VARIANCE ============ -->
<g fill="#111">
<text x="3114" y="1548" class="b" font-size="38" textLength="313" lengthAdjust="spacingAndGlyphs">Variance Analysis</text>
<g class="s" font-size="28">
<text x="3114" y="1645" textLength="775" lengthAdjust="spacingAndGlyphs">Consider a stateless MDP, i.e., a multi-armed bandit, as a</text>
<text x="3114" y="1685" textLength="741" lengthAdjust="spacingAndGlyphs">simplified scenario. The critic’s empirical losses can be</text>
<text x="3114" y="1726" textLength="502" lengthAdjust="spacingAndGlyphs">simplified for N samples and weights</text>
<text x="3809" y="1726" textLength="30" lengthAdjust="spacingAndGlyphs">as</text>
<text x="3114" y="1970" textLength="743" lengthAdjust="spacingAndGlyphs">Taking the derivatives of the losses with respect to the</text>
<text x="3114" y="2010" textLength="775" lengthAdjust="spacingAndGlyphs">estimator V and setting them to zero yields the following</text>
<text x="3114" y="2050" textLength="225" lengthAdjust="spacingAndGlyphs">three estimators</text>
<text x="3113" y="2213" class="d" font-size="28">➔</text>
<text x="3157" y="2213" textLength="720" lengthAdjust="spacingAndGlyphs">Base objective yields standard importance weighting</text>
<text x="3114" y="2254" textLength="786" lengthAdjust="spacingAndGlyphs">estimator, WIS loss self-normalized importance weighting</text>
<text x="3114" y="2294" textLength="561" lengthAdjust="spacingAndGlyphs">estimator, and V-trace a squared version.</text>
</g>
<text x="3627" y="1726" class="m" font-size="20" textLength="163" lengthAdjust="spacingAndGlyphs">ρ<tspan font-size="13" dy="4">a</tspan><tspan dy="-4" class="r"> = </tspan>π<tspan class="r">(</tspan>a<tspan class="r">)/</tspan>π<tspan font-size="13" dy="4">b</tspan><tspan dy="-4" class="r">(</tspan>a<tspan class="r">)</tspan></text>

<!-- L_base (variance) -->
<text x="3120" y="1812" class="m" font-size="26" textLength="76" lengthAdjust="spacingAndGlyphs">L<tspan class="r" font-size="16" dy="6">base</tspan><tspan class="r" dy="-6"> =</tspan></text>
<path class="dl" d="M3212,1771 Q3196,1805 3212,1840"/>
<text x="3217" y="1812" class="m" font-size="26" textLength="40" lengthAdjust="spacingAndGlyphs">V <tspan class="r">−</tspan></text>
<text x="3277" y="1794" class="r" font-size="21" text-anchor="middle">1</text>
<line x1="3268" y1="1800" x2="3287" y2="1800" stroke="#111" stroke-width="1.6"/>
<text x="3277" y="1826" class="m" font-size="21" text-anchor="middle">N</text>
<text x="3311" y="1820" class="r" font-size="36" text-anchor="middle">∑</text>
<text x="3311" y="1840" class="m" font-size="14" text-anchor="middle">a∼π<tspan font-size="10" dy="3">b</tspan></text>
<text x="3337" y="1812" class="m" font-size="26" textLength="63" lengthAdjust="spacingAndGlyphs">ρ<tspan font-size="16" dy="5">a</tspan><tspan dy="-5">r</tspan><tspan class="r">(</tspan>a<tspan class="r">)</tspan></text>
<path class="dl" d="M3400,1771 Q3416,1805 3400,1840"/>
<text x="3420" y="1778" class="r" font-size="16">2</text>
<!-- L_V-trace (variance) -->
<text x="3474" y="1812" class="m" font-size="26" textLength="94" lengthAdjust="spacingAndGlyphs">L<tspan class="r" font-size="16" dy="6">V-trace</tspan><tspan class="r" dy="-6"> =</tspan></text>
<text x="3591" y="1794" class="r" font-size="21" text-anchor="middle">1</text>
<line x1="3582" y1="1800" x2="3600" y2="1800" stroke="#111" stroke-width="1.6"/>
<text x="3591" y="1826" class="m" font-size="21" text-anchor="middle">N</text>
<text x="3626" y="1820" class="r" font-size="36" text-anchor="middle">∑</text>
<text x="3626" y="1840" class="m" font-size="14" text-anchor="middle">a∼π<tspan font-size="10" dy="3">b</tspan></text>
<path class="dl" d="M3660,1787 Q3648,1808 3660,1829"/>
<text x="3664" y="1812" class="m" font-size="26" textLength="262" lengthAdjust="spacingAndGlyphs">V <tspan class="r">− ((1 − </tspan>ρ<tspan font-size="16" dy="5">a</tspan><tspan class="r" dy="-5">)</tspan>V<tspan class="r"> + </tspan>ρ<tspan font-size="16" dy="5">a</tspan><tspan dy="-5">r</tspan><tspan class="r">(</tspan>a<tspan class="r">))</tspan></text>
<path class="dl" d="M3929,1787 Q3941,1808 3929,1829"/>
<text x="3941" y="1789" class="r" font-size="16">2</text>
<!-- L_WIS (variance) -->
<text x="3355" y="1878" class="m" font-size="26" textLength="71" lengthAdjust="spacingAndGlyphs">L<tspan class="r" font-size="16" dy="6">WIS</tspan><tspan class="r" dy="-6"> =</tspan></text>
<text x="3443" y="1860" class="r" font-size="21" text-anchor="middle">1</text>
<line x1="3434" y1="1866" x2="3452" y2="1866" stroke="#111" stroke-width="1.6"/>
<text x="3443" y="1892" class="m" font-size="21" text-anchor="middle">N</text>
<text x="3480" y="1886" class="r" font-size="36" text-anchor="middle">∑</text>
<text x="3480" y="1906" class="m" font-size="14" text-anchor="middle">a∼π<tspan font-size="10" dy="3">b</tspan></text>
<text x="3503" y="1878" class="m" font-size="26">ρ<tspan font-size="16" dy="5">a</tspan></text>
<path class="dl" d="M3533,1853 Q3521,1874 3533,1895"/>
<text x="3537" y="1878" class="m" font-size="26" textLength="88" lengthAdjust="spacingAndGlyphs">V <tspan class="r">− </tspan>r<tspan class="r">(</tspan>a<tspan class="r">)</tspan></text>
<path class="dl" d="M3629,1853 Q3641,1874 3629,1895"/>
<text x="3643" y="1855" class="r" font-size="16">2</text>

<!-- Estimators -->
<text x="3130" y="2127" class="m" font-size="26" textLength="76" lengthAdjust="spacingAndGlyphs">V̂<tspan class="r" font-size="17" dy="6">base</tspan><tspan class="r" dy="-6"> =</tspan></text>
<text x="3288" y="2106" class="m" font-size="24" text-anchor="middle" textLength="140" lengthAdjust="spacingAndGlyphs"><tspan class="r">∑</tspan><tspan font-size="14" dy="5">a∼π<tspan font-size="10">b</tspan></tspan><tspan dy="-5"> ρ</tspan><tspan font-size="15" dy="5">a</tspan><tspan dy="-5">r</tspan><tspan class="r">(</tspan>a<tspan class="r">)</tspan></text>
<line x1="3216" y1="2119" x2="3361" y2="2119" stroke="#111" stroke-width="1.6"/>
<text x="3288" y="2145" class="m" font-size="24" text-anchor="middle">N</text>

<text x="3414" y="2127" class="m" font-size="26" textLength="100" lengthAdjust="spacingAndGlyphs">V̂<tspan class="r" font-size="17" dy="6">V-trace</tspan><tspan class="r" dy="-6"> =</tspan></text>
<text x="3597" y="2106" class="m" font-size="24" text-anchor="middle" textLength="140" lengthAdjust="spacingAndGlyphs"><tspan class="r">∑</tspan><tspan font-size="14" dy="5">a∼π<tspan font-size="10">b</tspan></tspan><tspan dy="-5"> ρ</tspan><tspan font-size="15" dy="5">a</tspan><tspan class="r" font-size="15" dy="-13">2</tspan><tspan dy="8">r</tspan><tspan class="r">(</tspan>a<tspan class="r">)</tspan></text>
<line x1="3525" y1="2119" x2="3670" y2="2119" stroke="#111" stroke-width="1.6"/>
<text x="3597" y="2145" class="m" font-size="24" text-anchor="middle" textLength="100" lengthAdjust="spacingAndGlyphs"><tspan class="r">∑</tspan><tspan font-size="14" dy="5">a∼π<tspan font-size="10">b</tspan></tspan><tspan dy="-5"> ρ</tspan><tspan font-size="15" dy="5">a</tspan><tspan class="r" font-size="15" dy="-13">2</tspan></text>

<text x="3723" y="2127" class="m" font-size="26" textLength="79" lengthAdjust="spacingAndGlyphs">V̂<tspan class="r" font-size="17" dy="6">WIS</tspan><tspan class="r" dy="-6"> =</tspan></text>
<text x="3876" y="2106" class="m" font-size="24" text-anchor="middle" textLength="140" lengthAdjust="spacingAndGlyphs"><tspan class="r">∑</tspan><tspan font-size="14" dy="5">a∼π<tspan font-size="10">b</tspan></tspan><tspan dy="-5"> ρ</tspan><tspan font-size="15" dy="5">a</tspan><tspan dy="-5">r</tspan><tspan class="r">(</tspan>a<tspan class="r">)</tspan></text>
<line x1="3803" y1="2119" x2="3950" y2="2119" stroke="#111" stroke-width="1.6"/>
<text x="3876" y="2145" class="m" font-size="24" text-anchor="middle" textLength="90" lengthAdjust="spacingAndGlyphs"><tspan class="r">∑</tspan><tspan font-size="14" dy="5">a∼π<tspan font-size="10">b</tspan></tspan><tspan dy="-5"> ρ</tspan><tspan font-size="15" dy="5">a</tspan></text>
</g>

<!-- ============ REFERENCES ============ -->
<g class="s" fill="#111" font-size="23">
<text x="3115" y="2504" class="b" font-size="38" textLength="197" lengthAdjust="spacingAndGlyphs">References</text>
<text x="3115" y="2554" textLength="424" lengthAdjust="spacingAndGlyphs">L. Espeholt, et al. " IMPALA: Scalable</text>
<text x="3115" y="2588" textLength="558" lengthAdjust="spacingAndGlyphs">Distributed Deep-RL with Importance Weighted</text>
<text x="3115" y="2623" textLength="476" lengthAdjust="spacingAndGlyphs">Actor-Learner Architecture“. <tspan font-style="italic">ICML</tspan>, 2018.</text>
<text x="3115" y="2695" textLength="561" lengthAdjust="spacingAndGlyphs">F. Otto, et al. "Differentiable Trust Region Layers</text>
<text x="3115" y="2728" textLength="545" lengthAdjust="spacingAndGlyphs">for Deep Reinforcement Learning". <tspan font-style="italic">ICLR</tspan>, 2021.</text>
</g>
<!-- QR -->
<rect x="3742" y="2500" width="242" height="243" fill="url(#qr)"/>
<g fill="#e2e2e2">
<rect x="3738" y="2496" width="80" height="80"/><rect x="3908" y="2496" width="80" height="80"/><rect x="3738" y="2667" width="80" height="80"/>
<rect x="3824" y="2578" width="76" height="88"/>
</g>
<g fill="none" stroke="#000" stroke-width="9">
<rect x="3746.5" y="2504.5" width="60" height="60" rx="18"/><rect x="3916.5" y="2504.5" width="60" height="60" rx="18"/><rect x="3746.5" y="2675.5" width="60" height="60" rx="18"/>
</g>
<g fill="#000">
<rect x="3764" y="2522" width="25" height="25" rx="7"/><rect x="3934" y="2522" width="25" height="25" rx="7"/><rect x="3764" y="2693" width="25" height="25" rx="7"/>
</g>
<path d="M3838,2590 H3870 L3886,2606 V2656 Q3886,2660 3882,2660 H3842 Q3838,2660 3838,2656 Z" fill="none" stroke="#000" stroke-width="3"/>
<path d="M3870,2590 V2606 H3886" fill="none" stroke="#000" stroke-width="2.5"/>
<g stroke="#000" stroke-width="3"><line x1="3847" y1="2618" x2="3877" y2="2618"/><line x1="3847" y1="2627" x2="3877" y2="2627"/><line x1="3847" y1="2636" x2="3877" y2="2636"/><line x1="3847" y1="2645" x2="3866" y2="2645"/></g>
</svg>
</body></html>
